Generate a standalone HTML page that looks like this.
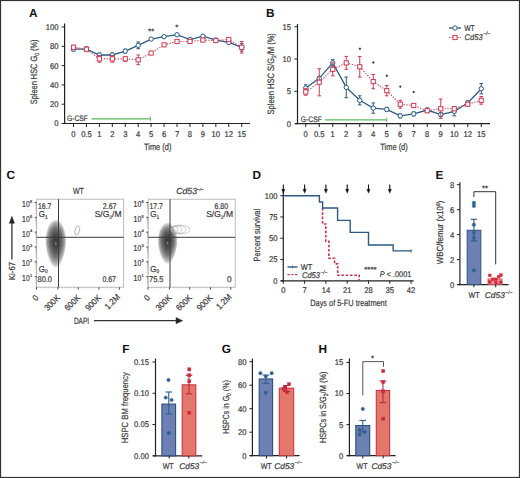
<!DOCTYPE html>
<html><head><meta charset="utf-8">
<style>
html,body{margin:0;padding:0;background:#fff;}
body{width:520px;height:478px;overflow:hidden;position:relative;}
svg{position:absolute;left:0;top:0;}
text{font-family:"Liberation Sans", sans-serif;}
</style></head><body>
<svg width="520" height="478" viewBox="0 0 520 478" text-rendering="geometricPrecision">
<rect x="0" y="0" width="520" height="478" fill="#fff"/>
<text transform="translate(29.00 16.50)" font-size="11.8" text-anchor="start" fill="#111" font-weight="bold">A</text>
<line x1="64.60" y1="23.50" x2="64.60" y2="124.10" stroke="#222" stroke-width="1.2" />
<line x1="62.10" y1="123.50" x2="250.00" y2="123.50" stroke="#222" stroke-width="1.2" />
<line x1="61.60" y1="123.50" x2="64.60" y2="123.50" stroke="#222" stroke-width="1" />
<text transform="translate(58.60 126.40) scale(0.92 1)" font-size="8.3" text-anchor="end" fill="#383838" stroke="#383838" stroke-width="0.2">0</text>
<line x1="61.60" y1="104.20" x2="64.60" y2="104.20" stroke="#222" stroke-width="1" />
<text transform="translate(58.60 107.10) scale(0.92 1)" font-size="8.3" text-anchor="end" fill="#383838" stroke="#383838" stroke-width="0.2">20</text>
<line x1="61.60" y1="84.90" x2="64.60" y2="84.90" stroke="#222" stroke-width="1" />
<text transform="translate(58.60 87.80) scale(0.92 1)" font-size="8.3" text-anchor="end" fill="#383838" stroke="#383838" stroke-width="0.2">40</text>
<line x1="61.60" y1="65.60" x2="64.60" y2="65.60" stroke="#222" stroke-width="1" />
<text transform="translate(58.60 68.50) scale(0.92 1)" font-size="8.3" text-anchor="end" fill="#383838" stroke="#383838" stroke-width="0.2">60</text>
<line x1="61.60" y1="46.30" x2="64.60" y2="46.30" stroke="#222" stroke-width="1" />
<text transform="translate(58.60 49.20) scale(0.92 1)" font-size="8.3" text-anchor="end" fill="#383838" stroke="#383838" stroke-width="0.2">80</text>
<line x1="61.60" y1="27.00" x2="64.60" y2="27.00" stroke="#222" stroke-width="1" />
<text transform="translate(58.60 29.90) scale(0.92 1)" font-size="8.3" text-anchor="end" fill="#383838" stroke="#383838" stroke-width="0.2">100</text>
<line x1="73.50" y1="123.50" x2="73.50" y2="127.00" stroke="#222" stroke-width="1" />
<text transform="translate(73.50 137.00) scale(0.92 1)" font-size="8.3" text-anchor="middle" fill="#383838" stroke="#383838" stroke-width="0.2">0</text>
<line x1="86.44" y1="123.50" x2="86.44" y2="127.00" stroke="#222" stroke-width="1" />
<text transform="translate(86.44 137.00) scale(0.92 1)" font-size="8.3" text-anchor="middle" fill="#383838" stroke="#383838" stroke-width="0.2">0.5</text>
<line x1="99.38" y1="123.50" x2="99.38" y2="127.00" stroke="#222" stroke-width="1" />
<text transform="translate(99.38 137.00) scale(0.92 1)" font-size="8.3" text-anchor="middle" fill="#383838" stroke="#383838" stroke-width="0.2">1</text>
<line x1="112.32" y1="123.50" x2="112.32" y2="127.00" stroke="#222" stroke-width="1" />
<text transform="translate(112.32 137.00) scale(0.92 1)" font-size="8.3" text-anchor="middle" fill="#383838" stroke="#383838" stroke-width="0.2">2</text>
<line x1="125.26" y1="123.50" x2="125.26" y2="127.00" stroke="#222" stroke-width="1" />
<text transform="translate(125.26 137.00) scale(0.92 1)" font-size="8.3" text-anchor="middle" fill="#383838" stroke="#383838" stroke-width="0.2">3</text>
<line x1="138.20" y1="123.50" x2="138.20" y2="127.00" stroke="#222" stroke-width="1" />
<text transform="translate(138.20 137.00) scale(0.92 1)" font-size="8.3" text-anchor="middle" fill="#383838" stroke="#383838" stroke-width="0.2">4</text>
<line x1="151.14" y1="123.50" x2="151.14" y2="127.00" stroke="#222" stroke-width="1" />
<text transform="translate(151.14 137.00) scale(0.92 1)" font-size="8.3" text-anchor="middle" fill="#383838" stroke="#383838" stroke-width="0.2">5</text>
<line x1="164.08" y1="123.50" x2="164.08" y2="127.00" stroke="#222" stroke-width="1" />
<text transform="translate(164.08 137.00) scale(0.92 1)" font-size="8.3" text-anchor="middle" fill="#383838" stroke="#383838" stroke-width="0.2">6</text>
<line x1="177.02" y1="123.50" x2="177.02" y2="127.00" stroke="#222" stroke-width="1" />
<text transform="translate(177.02 137.00) scale(0.92 1)" font-size="8.3" text-anchor="middle" fill="#383838" stroke="#383838" stroke-width="0.2">7</text>
<line x1="189.96" y1="123.50" x2="189.96" y2="127.00" stroke="#222" stroke-width="1" />
<text transform="translate(189.96 137.00) scale(0.92 1)" font-size="8.3" text-anchor="middle" fill="#383838" stroke="#383838" stroke-width="0.2">8</text>
<line x1="202.90" y1="123.50" x2="202.90" y2="127.00" stroke="#222" stroke-width="1" />
<text transform="translate(202.90 137.00) scale(0.92 1)" font-size="8.3" text-anchor="middle" fill="#383838" stroke="#383838" stroke-width="0.2">9</text>
<line x1="215.84" y1="123.50" x2="215.84" y2="127.00" stroke="#222" stroke-width="1" />
<text transform="translate(215.84 137.00) scale(0.92 1)" font-size="8.3" text-anchor="middle" fill="#383838" stroke="#383838" stroke-width="0.2">10</text>
<line x1="228.78" y1="123.50" x2="228.78" y2="127.00" stroke="#222" stroke-width="1" />
<text transform="translate(228.78 137.00) scale(0.92 1)" font-size="8.3" text-anchor="middle" fill="#383838" stroke="#383838" stroke-width="0.2">12</text>
<line x1="241.72" y1="123.50" x2="241.72" y2="127.00" stroke="#222" stroke-width="1" />
<text transform="translate(241.72 137.00) scale(0.92 1)" font-size="8.3" text-anchor="middle" fill="#383838" stroke="#383838" stroke-width="0.2">15</text>
<text transform="translate(157.70 150.10)" font-size="9.2" text-anchor="middle" fill="#383838" stroke="#383838" stroke-width="0.2" textLength="27.5" lengthAdjust="spacingAndGlyphs">Time (d)</text>
<text transform="translate(37.00 71.90) rotate(-90)" font-size="9.3" text-anchor="middle" fill="#383838" stroke="#383838" stroke-width="0.2" textLength="64.8" lengthAdjust="spacingAndGlyphs">Spleen HSC G<tspan font-size="6" dy="1.8">0</tspan><tspan dy="-1.8"> (%)</tspan></text>
<text transform="translate(67.00 121.20)" font-size="8" text-anchor="start" fill="#383838" stroke="#383838" stroke-width="0.2" textLength="21" lengthAdjust="spacingAndGlyphs">G-CSF</text>
<line x1="91.50" y1="118.80" x2="150.40" y2="118.80" stroke="#5fb95a" stroke-width="1.2" />
<line x1="150.40" y1="116.50" x2="150.40" y2="121.00" stroke="#5fb95a" stroke-width="1" />
<polyline points="73.50,49.20 86.44,49.20 99.38,54.98 112.32,54.98 125.26,51.12 138.20,45.34 151.14,39.06 164.08,36.65 177.02,34.72 189.96,39.55 202.90,36.17 215.84,40.03 228.78,42.44 241.72,47.27" fill="none" stroke="#2b5a85" stroke-width="1.3"/>
<line x1="73.50" y1="47.27" x2="73.50" y2="51.12" stroke="#2b5a85" stroke-width="1" />
<line x1="71.70" y1="47.27" x2="75.30" y2="47.27" stroke="#2b5a85" stroke-width="1" />
<line x1="71.70" y1="51.12" x2="75.30" y2="51.12" stroke="#2b5a85" stroke-width="1" />
<line x1="86.44" y1="47.27" x2="86.44" y2="51.12" stroke="#2b5a85" stroke-width="1" />
<line x1="84.64" y1="47.27" x2="88.24" y2="47.27" stroke="#2b5a85" stroke-width="1" />
<line x1="84.64" y1="51.12" x2="88.24" y2="51.12" stroke="#2b5a85" stroke-width="1" />
<line x1="99.38" y1="53.06" x2="99.38" y2="56.92" stroke="#2b5a85" stroke-width="1" />
<line x1="97.58" y1="53.06" x2="101.18" y2="53.06" stroke="#2b5a85" stroke-width="1" />
<line x1="97.58" y1="56.92" x2="101.18" y2="56.92" stroke="#2b5a85" stroke-width="1" />
<line x1="112.32" y1="53.06" x2="112.32" y2="56.92" stroke="#2b5a85" stroke-width="1" />
<line x1="110.52" y1="53.06" x2="114.12" y2="53.06" stroke="#2b5a85" stroke-width="1" />
<line x1="110.52" y1="56.92" x2="114.12" y2="56.92" stroke="#2b5a85" stroke-width="1" />
<line x1="125.26" y1="49.20" x2="125.26" y2="53.06" stroke="#2b5a85" stroke-width="1" />
<line x1="123.46" y1="49.20" x2="127.06" y2="49.20" stroke="#2b5a85" stroke-width="1" />
<line x1="123.46" y1="53.06" x2="127.06" y2="53.06" stroke="#2b5a85" stroke-width="1" />
<line x1="138.20" y1="41.96" x2="138.20" y2="48.71" stroke="#2b5a85" stroke-width="1" />
<line x1="136.40" y1="41.96" x2="140.00" y2="41.96" stroke="#2b5a85" stroke-width="1" />
<line x1="136.40" y1="48.71" x2="140.00" y2="48.71" stroke="#2b5a85" stroke-width="1" />
<line x1="151.14" y1="38.10" x2="151.14" y2="40.03" stroke="#2b5a85" stroke-width="1" />
<line x1="149.34" y1="38.10" x2="152.94" y2="38.10" stroke="#2b5a85" stroke-width="1" />
<line x1="149.34" y1="40.03" x2="152.94" y2="40.03" stroke="#2b5a85" stroke-width="1" />
<line x1="164.08" y1="35.69" x2="164.08" y2="37.62" stroke="#2b5a85" stroke-width="1" />
<line x1="162.28" y1="35.69" x2="165.88" y2="35.69" stroke="#2b5a85" stroke-width="1" />
<line x1="162.28" y1="37.62" x2="165.88" y2="37.62" stroke="#2b5a85" stroke-width="1" />
<line x1="177.02" y1="33.76" x2="177.02" y2="35.69" stroke="#2b5a85" stroke-width="1" />
<line x1="175.22" y1="33.76" x2="178.82" y2="33.76" stroke="#2b5a85" stroke-width="1" />
<line x1="175.22" y1="35.69" x2="178.82" y2="35.69" stroke="#2b5a85" stroke-width="1" />
<line x1="189.96" y1="38.58" x2="189.96" y2="40.51" stroke="#2b5a85" stroke-width="1" />
<line x1="188.16" y1="38.58" x2="191.76" y2="38.58" stroke="#2b5a85" stroke-width="1" />
<line x1="188.16" y1="40.51" x2="191.76" y2="40.51" stroke="#2b5a85" stroke-width="1" />
<line x1="202.90" y1="35.20" x2="202.90" y2="37.13" stroke="#2b5a85" stroke-width="1" />
<line x1="201.10" y1="35.20" x2="204.70" y2="35.20" stroke="#2b5a85" stroke-width="1" />
<line x1="201.10" y1="37.13" x2="204.70" y2="37.13" stroke="#2b5a85" stroke-width="1" />
<line x1="215.84" y1="39.06" x2="215.84" y2="40.99" stroke="#2b5a85" stroke-width="1" />
<line x1="214.04" y1="39.06" x2="217.64" y2="39.06" stroke="#2b5a85" stroke-width="1" />
<line x1="214.04" y1="40.99" x2="217.64" y2="40.99" stroke="#2b5a85" stroke-width="1" />
<line x1="228.78" y1="41.48" x2="228.78" y2="43.41" stroke="#2b5a85" stroke-width="1" />
<line x1="226.98" y1="41.48" x2="230.58" y2="41.48" stroke="#2b5a85" stroke-width="1" />
<line x1="226.98" y1="43.41" x2="230.58" y2="43.41" stroke="#2b5a85" stroke-width="1" />
<line x1="241.72" y1="43.41" x2="241.72" y2="51.12" stroke="#2b5a85" stroke-width="1" />
<line x1="239.92" y1="43.41" x2="243.52" y2="43.41" stroke="#2b5a85" stroke-width="1" />
<line x1="239.92" y1="51.12" x2="243.52" y2="51.12" stroke="#2b5a85" stroke-width="1" />
<circle cx="73.50" cy="49.20" r="2.2" stroke="#2b5a85" fill="#fff" stroke-width="1"/>
<circle cx="86.44" cy="49.20" r="2.2" stroke="#2b5a85" fill="#fff" stroke-width="1"/>
<circle cx="99.38" cy="54.98" r="2.2" stroke="#2b5a85" fill="#fff" stroke-width="1"/>
<circle cx="112.32" cy="54.98" r="2.2" stroke="#2b5a85" fill="#fff" stroke-width="1"/>
<circle cx="125.26" cy="51.12" r="2.2" stroke="#2b5a85" fill="#fff" stroke-width="1"/>
<circle cx="138.20" cy="45.34" r="2.2" stroke="#2b5a85" fill="#fff" stroke-width="1"/>
<circle cx="151.14" cy="39.06" r="2.2" stroke="#2b5a85" fill="#fff" stroke-width="1"/>
<circle cx="164.08" cy="36.65" r="2.2" stroke="#2b5a85" fill="#fff" stroke-width="1"/>
<circle cx="177.02" cy="34.72" r="2.2" stroke="#2b5a85" fill="#fff" stroke-width="1"/>
<circle cx="189.96" cy="39.55" r="2.2" stroke="#2b5a85" fill="#fff" stroke-width="1"/>
<circle cx="202.90" cy="36.17" r="2.2" stroke="#2b5a85" fill="#fff" stroke-width="1"/>
<circle cx="215.84" cy="40.03" r="2.2" stroke="#2b5a85" fill="#fff" stroke-width="1"/>
<circle cx="228.78" cy="42.44" r="2.2" stroke="#2b5a85" fill="#fff" stroke-width="1"/>
<circle cx="241.72" cy="47.27" r="2.2" stroke="#2b5a85" fill="#fff" stroke-width="1"/>
<polyline points="73.50,47.27 86.44,49.20 99.38,58.84 112.32,58.84 125.26,58.84 138.20,59.81 151.14,53.06 164.08,44.85 177.02,41.48 189.96,41.48 202.90,40.03 215.84,40.51 228.78,39.55 241.72,47.27" fill="none" stroke="#cf3b55" stroke-width="1.1" stroke-dasharray="1.3,1.5"/>
<line x1="73.50" y1="45.34" x2="73.50" y2="49.20" stroke="#cf3b55" stroke-width="1" />
<line x1="71.70" y1="45.34" x2="75.30" y2="45.34" stroke="#cf3b55" stroke-width="1" />
<line x1="71.70" y1="49.20" x2="75.30" y2="49.20" stroke="#cf3b55" stroke-width="1" />
<line x1="86.44" y1="46.78" x2="86.44" y2="51.61" stroke="#cf3b55" stroke-width="1" />
<line x1="84.64" y1="46.78" x2="88.24" y2="46.78" stroke="#cf3b55" stroke-width="1" />
<line x1="84.64" y1="51.61" x2="88.24" y2="51.61" stroke="#cf3b55" stroke-width="1" />
<line x1="99.38" y1="55.47" x2="99.38" y2="62.22" stroke="#cf3b55" stroke-width="1" />
<line x1="97.58" y1="55.47" x2="101.18" y2="55.47" stroke="#cf3b55" stroke-width="1" />
<line x1="97.58" y1="62.22" x2="101.18" y2="62.22" stroke="#cf3b55" stroke-width="1" />
<line x1="112.32" y1="55.47" x2="112.32" y2="62.22" stroke="#cf3b55" stroke-width="1" />
<line x1="110.52" y1="55.47" x2="114.12" y2="55.47" stroke="#cf3b55" stroke-width="1" />
<line x1="110.52" y1="62.22" x2="114.12" y2="62.22" stroke="#cf3b55" stroke-width="1" />
<line x1="125.26" y1="56.43" x2="125.26" y2="61.26" stroke="#cf3b55" stroke-width="1" />
<line x1="123.46" y1="56.43" x2="127.06" y2="56.43" stroke="#cf3b55" stroke-width="1" />
<line x1="123.46" y1="61.26" x2="127.06" y2="61.26" stroke="#cf3b55" stroke-width="1" />
<line x1="138.20" y1="54.98" x2="138.20" y2="64.64" stroke="#cf3b55" stroke-width="1" />
<line x1="136.40" y1="54.98" x2="140.00" y2="54.98" stroke="#cf3b55" stroke-width="1" />
<line x1="136.40" y1="64.64" x2="140.00" y2="64.64" stroke="#cf3b55" stroke-width="1" />
<line x1="151.14" y1="52.09" x2="151.14" y2="54.02" stroke="#cf3b55" stroke-width="1" />
<line x1="149.34" y1="52.09" x2="152.94" y2="52.09" stroke="#cf3b55" stroke-width="1" />
<line x1="149.34" y1="54.02" x2="152.94" y2="54.02" stroke="#cf3b55" stroke-width="1" />
<line x1="164.08" y1="43.89" x2="164.08" y2="45.82" stroke="#cf3b55" stroke-width="1" />
<line x1="162.28" y1="43.89" x2="165.88" y2="43.89" stroke="#cf3b55" stroke-width="1" />
<line x1="162.28" y1="45.82" x2="165.88" y2="45.82" stroke="#cf3b55" stroke-width="1" />
<line x1="177.02" y1="40.51" x2="177.02" y2="42.44" stroke="#cf3b55" stroke-width="1" />
<line x1="175.22" y1="40.51" x2="178.82" y2="40.51" stroke="#cf3b55" stroke-width="1" />
<line x1="175.22" y1="42.44" x2="178.82" y2="42.44" stroke="#cf3b55" stroke-width="1" />
<line x1="189.96" y1="40.51" x2="189.96" y2="42.44" stroke="#cf3b55" stroke-width="1" />
<line x1="188.16" y1="40.51" x2="191.76" y2="40.51" stroke="#cf3b55" stroke-width="1" />
<line x1="188.16" y1="42.44" x2="191.76" y2="42.44" stroke="#cf3b55" stroke-width="1" />
<line x1="202.90" y1="39.06" x2="202.90" y2="40.99" stroke="#cf3b55" stroke-width="1" />
<line x1="201.10" y1="39.06" x2="204.70" y2="39.06" stroke="#cf3b55" stroke-width="1" />
<line x1="201.10" y1="40.99" x2="204.70" y2="40.99" stroke="#cf3b55" stroke-width="1" />
<line x1="215.84" y1="39.55" x2="215.84" y2="41.48" stroke="#cf3b55" stroke-width="1" />
<line x1="214.04" y1="39.55" x2="217.64" y2="39.55" stroke="#cf3b55" stroke-width="1" />
<line x1="214.04" y1="41.48" x2="217.64" y2="41.48" stroke="#cf3b55" stroke-width="1" />
<line x1="228.78" y1="38.58" x2="228.78" y2="40.51" stroke="#cf3b55" stroke-width="1" />
<line x1="226.98" y1="38.58" x2="230.58" y2="38.58" stroke="#cf3b55" stroke-width="1" />
<line x1="226.98" y1="40.51" x2="230.58" y2="40.51" stroke="#cf3b55" stroke-width="1" />
<line x1="241.72" y1="41.48" x2="241.72" y2="53.06" stroke="#cf3b55" stroke-width="1" />
<line x1="239.92" y1="41.48" x2="243.52" y2="41.48" stroke="#cf3b55" stroke-width="1" />
<line x1="239.92" y1="53.06" x2="243.52" y2="53.06" stroke="#cf3b55" stroke-width="1" />
<rect x="71.40" y="45.16" width="4.2" height="4.2" stroke="#cf3b55" fill="#fff" stroke-width="1"/>
<rect x="84.34" y="47.10" width="4.2" height="4.2" stroke="#cf3b55" fill="#fff" stroke-width="1"/>
<rect x="97.28" y="56.74" width="4.2" height="4.2" stroke="#cf3b55" fill="#fff" stroke-width="1"/>
<rect x="110.22" y="56.74" width="4.2" height="4.2" stroke="#cf3b55" fill="#fff" stroke-width="1"/>
<rect x="123.16" y="56.74" width="4.2" height="4.2" stroke="#cf3b55" fill="#fff" stroke-width="1"/>
<rect x="136.10" y="57.71" width="4.2" height="4.2" stroke="#cf3b55" fill="#fff" stroke-width="1"/>
<rect x="149.04" y="50.96" width="4.2" height="4.2" stroke="#cf3b55" fill="#fff" stroke-width="1"/>
<rect x="161.98" y="42.75" width="4.2" height="4.2" stroke="#cf3b55" fill="#fff" stroke-width="1"/>
<rect x="174.92" y="39.38" width="4.2" height="4.2" stroke="#cf3b55" fill="#fff" stroke-width="1"/>
<rect x="187.86" y="39.38" width="4.2" height="4.2" stroke="#cf3b55" fill="#fff" stroke-width="1"/>
<rect x="200.80" y="37.93" width="4.2" height="4.2" stroke="#cf3b55" fill="#fff" stroke-width="1"/>
<rect x="213.74" y="38.41" width="4.2" height="4.2" stroke="#cf3b55" fill="#fff" stroke-width="1"/>
<rect x="226.68" y="37.45" width="4.2" height="4.2" stroke="#cf3b55" fill="#fff" stroke-width="1"/>
<rect x="239.62" y="45.16" width="4.2" height="4.2" stroke="#cf3b55" fill="#fff" stroke-width="1"/>
<text transform="translate(151.00 33.60)" font-size="8" text-anchor="middle" fill="#333" stroke="#333" stroke-width="0.2">**</text>
<text transform="translate(176.70 30.10)" font-size="8" text-anchor="middle" fill="#333" stroke="#333" stroke-width="0.2">*</text>
<text transform="translate(266.00 16.50)" font-size="11.8" text-anchor="start" fill="#111" font-weight="bold">B</text>
<line x1="297.50" y1="24.00" x2="297.50" y2="124.20" stroke="#222" stroke-width="1.2" />
<line x1="295.00" y1="123.60" x2="490.00" y2="123.60" stroke="#222" stroke-width="1.2" />
<line x1="294.50" y1="123.60" x2="297.50" y2="123.60" stroke="#222" stroke-width="1" />
<text transform="translate(291.00 126.50) scale(0.92 1)" font-size="8.3" text-anchor="end" fill="#383838" stroke="#383838" stroke-width="0.2">0</text>
<line x1="294.50" y1="91.30" x2="297.50" y2="91.30" stroke="#222" stroke-width="1" />
<text transform="translate(291.00 94.20) scale(0.92 1)" font-size="8.3" text-anchor="end" fill="#383838" stroke="#383838" stroke-width="0.2">5</text>
<line x1="294.50" y1="59.00" x2="297.50" y2="59.00" stroke="#222" stroke-width="1" />
<text transform="translate(291.00 61.90) scale(0.92 1)" font-size="8.3" text-anchor="end" fill="#383838" stroke="#383838" stroke-width="0.2">10</text>
<line x1="294.50" y1="26.70" x2="297.50" y2="26.70" stroke="#222" stroke-width="1" />
<text transform="translate(291.00 29.60) scale(0.92 1)" font-size="8.3" text-anchor="end" fill="#383838" stroke="#383838" stroke-width="0.2">15</text>
<line x1="305.75" y1="123.60" x2="305.75" y2="127.10" stroke="#222" stroke-width="1" />
<text transform="translate(305.75 137.00) scale(0.92 1)" font-size="8.3" text-anchor="middle" fill="#383838" stroke="#383838" stroke-width="0.2">0</text>
<line x1="319.25" y1="123.60" x2="319.25" y2="127.10" stroke="#222" stroke-width="1" />
<text transform="translate(319.25 137.00) scale(0.92 1)" font-size="8.3" text-anchor="middle" fill="#383838" stroke="#383838" stroke-width="0.2">0.5</text>
<line x1="332.75" y1="123.60" x2="332.75" y2="127.10" stroke="#222" stroke-width="1" />
<text transform="translate(332.75 137.00) scale(0.92 1)" font-size="8.3" text-anchor="middle" fill="#383838" stroke="#383838" stroke-width="0.2">1</text>
<line x1="346.25" y1="123.60" x2="346.25" y2="127.10" stroke="#222" stroke-width="1" />
<text transform="translate(346.25 137.00) scale(0.92 1)" font-size="8.3" text-anchor="middle" fill="#383838" stroke="#383838" stroke-width="0.2">2</text>
<line x1="359.75" y1="123.60" x2="359.75" y2="127.10" stroke="#222" stroke-width="1" />
<text transform="translate(359.75 137.00) scale(0.92 1)" font-size="8.3" text-anchor="middle" fill="#383838" stroke="#383838" stroke-width="0.2">3</text>
<line x1="373.25" y1="123.60" x2="373.25" y2="127.10" stroke="#222" stroke-width="1" />
<text transform="translate(373.25 137.00) scale(0.92 1)" font-size="8.3" text-anchor="middle" fill="#383838" stroke="#383838" stroke-width="0.2">4</text>
<line x1="386.75" y1="123.60" x2="386.75" y2="127.10" stroke="#222" stroke-width="1" />
<text transform="translate(386.75 137.00) scale(0.92 1)" font-size="8.3" text-anchor="middle" fill="#383838" stroke="#383838" stroke-width="0.2">5</text>
<line x1="400.25" y1="123.60" x2="400.25" y2="127.10" stroke="#222" stroke-width="1" />
<text transform="translate(400.25 137.00) scale(0.92 1)" font-size="8.3" text-anchor="middle" fill="#383838" stroke="#383838" stroke-width="0.2">6</text>
<line x1="413.75" y1="123.60" x2="413.75" y2="127.10" stroke="#222" stroke-width="1" />
<text transform="translate(413.75 137.00) scale(0.92 1)" font-size="8.3" text-anchor="middle" fill="#383838" stroke="#383838" stroke-width="0.2">7</text>
<line x1="427.25" y1="123.60" x2="427.25" y2="127.10" stroke="#222" stroke-width="1" />
<text transform="translate(427.25 137.00) scale(0.92 1)" font-size="8.3" text-anchor="middle" fill="#383838" stroke="#383838" stroke-width="0.2">8</text>
<line x1="440.75" y1="123.60" x2="440.75" y2="127.10" stroke="#222" stroke-width="1" />
<text transform="translate(440.75 137.00) scale(0.92 1)" font-size="8.3" text-anchor="middle" fill="#383838" stroke="#383838" stroke-width="0.2">9</text>
<line x1="454.25" y1="123.60" x2="454.25" y2="127.10" stroke="#222" stroke-width="1" />
<text transform="translate(454.25 137.00) scale(0.92 1)" font-size="8.3" text-anchor="middle" fill="#383838" stroke="#383838" stroke-width="0.2">10</text>
<line x1="467.75" y1="123.60" x2="467.75" y2="127.10" stroke="#222" stroke-width="1" />
<text transform="translate(467.75 137.00) scale(0.92 1)" font-size="8.3" text-anchor="middle" fill="#383838" stroke="#383838" stroke-width="0.2">12</text>
<line x1="481.25" y1="123.60" x2="481.25" y2="127.10" stroke="#222" stroke-width="1" />
<text transform="translate(481.25 137.00) scale(0.92 1)" font-size="8.3" text-anchor="middle" fill="#383838" stroke="#383838" stroke-width="0.2">15</text>
<text transform="translate(394.00 150.10)" font-size="9.2" text-anchor="middle" fill="#383838" stroke="#383838" stroke-width="0.2" textLength="27.5" lengthAdjust="spacingAndGlyphs">Time (d)</text>
<text transform="translate(274.40 73.80) rotate(-90)" font-size="9.3" text-anchor="middle" fill="#383838" stroke="#383838" stroke-width="0.2" textLength="81.3" lengthAdjust="spacingAndGlyphs">Spleen HSC S/G<tspan font-size="6" dy="1.8">2</tspan><tspan dy="-1.8">/M (%)</tspan></text>
<text transform="translate(300.80 122.00)" font-size="8" text-anchor="start" fill="#383838" stroke="#383838" stroke-width="0.2" textLength="21" lengthAdjust="spacingAndGlyphs">G-CSF</text>
<line x1="325.00" y1="119.80" x2="386.75" y2="119.80" stroke="#5fb95a" stroke-width="1.2" />
<line x1="386.75" y1="117.50" x2="386.75" y2="122.00" stroke="#5fb95a" stroke-width="1" />
<polyline points="305.75,88.07 319.25,78.38 332.75,62.88 346.25,87.42 359.75,100.34 373.25,108.10 386.75,109.39 400.25,115.85 413.75,113.91 427.25,110.03 440.75,114.56 454.25,111.33 467.75,102.93 481.25,88.72" fill="none" stroke="#2b5a85" stroke-width="1.3"/>
<line x1="305.75" y1="84.84" x2="305.75" y2="91.30" stroke="#2b5a85" stroke-width="1" />
<line x1="303.95" y1="84.84" x2="307.55" y2="84.84" stroke="#2b5a85" stroke-width="1" />
<line x1="303.95" y1="91.30" x2="307.55" y2="91.30" stroke="#2b5a85" stroke-width="1" />
<line x1="319.25" y1="76.44" x2="319.25" y2="80.32" stroke="#2b5a85" stroke-width="1" />
<line x1="317.45" y1="76.44" x2="321.05" y2="76.44" stroke="#2b5a85" stroke-width="1" />
<line x1="317.45" y1="80.32" x2="321.05" y2="80.32" stroke="#2b5a85" stroke-width="1" />
<line x1="332.75" y1="59.65" x2="332.75" y2="66.11" stroke="#2b5a85" stroke-width="1" />
<line x1="330.95" y1="59.65" x2="334.55" y2="59.65" stroke="#2b5a85" stroke-width="1" />
<line x1="330.95" y1="66.11" x2="334.55" y2="66.11" stroke="#2b5a85" stroke-width="1" />
<line x1="346.25" y1="77.09" x2="346.25" y2="97.76" stroke="#2b5a85" stroke-width="1" />
<line x1="344.45" y1="77.09" x2="348.05" y2="77.09" stroke="#2b5a85" stroke-width="1" />
<line x1="344.45" y1="97.76" x2="348.05" y2="97.76" stroke="#2b5a85" stroke-width="1" />
<line x1="359.75" y1="95.82" x2="359.75" y2="104.87" stroke="#2b5a85" stroke-width="1" />
<line x1="357.95" y1="95.82" x2="361.55" y2="95.82" stroke="#2b5a85" stroke-width="1" />
<line x1="357.95" y1="104.87" x2="361.55" y2="104.87" stroke="#2b5a85" stroke-width="1" />
<line x1="373.25" y1="102.93" x2="373.25" y2="113.26" stroke="#2b5a85" stroke-width="1" />
<line x1="371.45" y1="102.93" x2="375.05" y2="102.93" stroke="#2b5a85" stroke-width="1" />
<line x1="371.45" y1="113.26" x2="375.05" y2="113.26" stroke="#2b5a85" stroke-width="1" />
<line x1="386.75" y1="107.45" x2="386.75" y2="111.33" stroke="#2b5a85" stroke-width="1" />
<line x1="384.95" y1="107.45" x2="388.55" y2="107.45" stroke="#2b5a85" stroke-width="1" />
<line x1="384.95" y1="111.33" x2="388.55" y2="111.33" stroke="#2b5a85" stroke-width="1" />
<line x1="400.25" y1="113.91" x2="400.25" y2="117.79" stroke="#2b5a85" stroke-width="1" />
<line x1="398.45" y1="113.91" x2="402.05" y2="113.91" stroke="#2b5a85" stroke-width="1" />
<line x1="398.45" y1="117.79" x2="402.05" y2="117.79" stroke="#2b5a85" stroke-width="1" />
<line x1="413.75" y1="111.97" x2="413.75" y2="115.85" stroke="#2b5a85" stroke-width="1" />
<line x1="411.95" y1="111.97" x2="415.55" y2="111.97" stroke="#2b5a85" stroke-width="1" />
<line x1="411.95" y1="115.85" x2="415.55" y2="115.85" stroke="#2b5a85" stroke-width="1" />
<line x1="427.25" y1="108.10" x2="427.25" y2="111.97" stroke="#2b5a85" stroke-width="1" />
<line x1="425.45" y1="108.10" x2="429.05" y2="108.10" stroke="#2b5a85" stroke-width="1" />
<line x1="425.45" y1="111.97" x2="429.05" y2="111.97" stroke="#2b5a85" stroke-width="1" />
<line x1="440.75" y1="112.62" x2="440.75" y2="116.49" stroke="#2b5a85" stroke-width="1" />
<line x1="438.95" y1="112.62" x2="442.55" y2="112.62" stroke="#2b5a85" stroke-width="1" />
<line x1="438.95" y1="116.49" x2="442.55" y2="116.49" stroke="#2b5a85" stroke-width="1" />
<line x1="454.25" y1="106.80" x2="454.25" y2="115.85" stroke="#2b5a85" stroke-width="1" />
<line x1="452.45" y1="106.80" x2="456.05" y2="106.80" stroke="#2b5a85" stroke-width="1" />
<line x1="452.45" y1="115.85" x2="456.05" y2="115.85" stroke="#2b5a85" stroke-width="1" />
<line x1="467.75" y1="100.99" x2="467.75" y2="104.87" stroke="#2b5a85" stroke-width="1" />
<line x1="465.95" y1="100.99" x2="469.55" y2="100.99" stroke="#2b5a85" stroke-width="1" />
<line x1="465.95" y1="104.87" x2="469.55" y2="104.87" stroke="#2b5a85" stroke-width="1" />
<line x1="481.25" y1="83.55" x2="481.25" y2="93.88" stroke="#2b5a85" stroke-width="1" />
<line x1="479.45" y1="83.55" x2="483.05" y2="83.55" stroke="#2b5a85" stroke-width="1" />
<line x1="479.45" y1="93.88" x2="483.05" y2="93.88" stroke="#2b5a85" stroke-width="1" />
<circle cx="305.75" cy="88.07" r="2.2" stroke="#2b5a85" fill="#fff" stroke-width="1"/>
<circle cx="319.25" cy="78.38" r="2.2" stroke="#2b5a85" fill="#fff" stroke-width="1"/>
<circle cx="332.75" cy="62.88" r="2.2" stroke="#2b5a85" fill="#fff" stroke-width="1"/>
<circle cx="346.25" cy="87.42" r="2.2" stroke="#2b5a85" fill="#fff" stroke-width="1"/>
<circle cx="359.75" cy="100.34" r="2.2" stroke="#2b5a85" fill="#fff" stroke-width="1"/>
<circle cx="373.25" cy="108.10" r="2.2" stroke="#2b5a85" fill="#fff" stroke-width="1"/>
<circle cx="386.75" cy="109.39" r="2.2" stroke="#2b5a85" fill="#fff" stroke-width="1"/>
<circle cx="400.25" cy="115.85" r="2.2" stroke="#2b5a85" fill="#fff" stroke-width="1"/>
<circle cx="413.75" cy="113.91" r="2.2" stroke="#2b5a85" fill="#fff" stroke-width="1"/>
<circle cx="427.25" cy="110.03" r="2.2" stroke="#2b5a85" fill="#fff" stroke-width="1"/>
<circle cx="440.75" cy="114.56" r="2.2" stroke="#2b5a85" fill="#fff" stroke-width="1"/>
<circle cx="454.25" cy="111.33" r="2.2" stroke="#2b5a85" fill="#fff" stroke-width="1"/>
<circle cx="467.75" cy="102.93" r="2.2" stroke="#2b5a85" fill="#fff" stroke-width="1"/>
<circle cx="481.25" cy="88.72" r="2.2" stroke="#2b5a85" fill="#fff" stroke-width="1"/>
<polyline points="305.75,91.95 319.25,82.26 332.75,69.34 346.25,62.88 359.75,66.75 373.25,81.61 386.75,90.65 400.25,104.22 413.75,105.51 427.25,110.68 440.75,108.74 454.25,108.74 467.75,104.22 481.25,100.34" fill="none" stroke="#cf3b55" stroke-width="1.1" stroke-dasharray="1.3,1.5"/>
<line x1="305.75" y1="88.72" x2="305.75" y2="95.18" stroke="#cf3b55" stroke-width="1" />
<line x1="303.95" y1="88.72" x2="307.55" y2="88.72" stroke="#cf3b55" stroke-width="1" />
<line x1="303.95" y1="95.18" x2="307.55" y2="95.18" stroke="#cf3b55" stroke-width="1" />
<line x1="319.25" y1="68.69" x2="319.25" y2="95.82" stroke="#cf3b55" stroke-width="1" />
<line x1="317.45" y1="68.69" x2="321.05" y2="68.69" stroke="#cf3b55" stroke-width="1" />
<line x1="317.45" y1="95.82" x2="321.05" y2="95.82" stroke="#cf3b55" stroke-width="1" />
<line x1="332.75" y1="62.88" x2="332.75" y2="75.80" stroke="#cf3b55" stroke-width="1" />
<line x1="330.95" y1="62.88" x2="334.55" y2="62.88" stroke="#cf3b55" stroke-width="1" />
<line x1="330.95" y1="75.80" x2="334.55" y2="75.80" stroke="#cf3b55" stroke-width="1" />
<line x1="346.25" y1="56.42" x2="346.25" y2="69.34" stroke="#cf3b55" stroke-width="1" />
<line x1="344.45" y1="56.42" x2="348.05" y2="56.42" stroke="#cf3b55" stroke-width="1" />
<line x1="344.45" y1="69.34" x2="348.05" y2="69.34" stroke="#cf3b55" stroke-width="1" />
<line x1="359.75" y1="56.42" x2="359.75" y2="77.09" stroke="#cf3b55" stroke-width="1" />
<line x1="357.95" y1="56.42" x2="361.55" y2="56.42" stroke="#cf3b55" stroke-width="1" />
<line x1="357.95" y1="77.09" x2="361.55" y2="77.09" stroke="#cf3b55" stroke-width="1" />
<line x1="373.25" y1="74.50" x2="373.25" y2="88.72" stroke="#cf3b55" stroke-width="1" />
<line x1="371.45" y1="74.50" x2="375.05" y2="74.50" stroke="#cf3b55" stroke-width="1" />
<line x1="371.45" y1="88.72" x2="375.05" y2="88.72" stroke="#cf3b55" stroke-width="1" />
<line x1="386.75" y1="85.49" x2="386.75" y2="95.82" stroke="#cf3b55" stroke-width="1" />
<line x1="384.95" y1="85.49" x2="388.55" y2="85.49" stroke="#cf3b55" stroke-width="1" />
<line x1="384.95" y1="95.82" x2="388.55" y2="95.82" stroke="#cf3b55" stroke-width="1" />
<line x1="400.25" y1="100.34" x2="400.25" y2="108.10" stroke="#cf3b55" stroke-width="1" />
<line x1="398.45" y1="100.34" x2="402.05" y2="100.34" stroke="#cf3b55" stroke-width="1" />
<line x1="398.45" y1="108.10" x2="402.05" y2="108.10" stroke="#cf3b55" stroke-width="1" />
<line x1="413.75" y1="103.57" x2="413.75" y2="107.45" stroke="#cf3b55" stroke-width="1" />
<line x1="411.95" y1="103.57" x2="415.55" y2="103.57" stroke="#cf3b55" stroke-width="1" />
<line x1="411.95" y1="107.45" x2="415.55" y2="107.45" stroke="#cf3b55" stroke-width="1" />
<line x1="427.25" y1="108.74" x2="427.25" y2="112.62" stroke="#cf3b55" stroke-width="1" />
<line x1="425.45" y1="108.74" x2="429.05" y2="108.74" stroke="#cf3b55" stroke-width="1" />
<line x1="425.45" y1="112.62" x2="429.05" y2="112.62" stroke="#cf3b55" stroke-width="1" />
<line x1="440.75" y1="99.05" x2="440.75" y2="118.43" stroke="#cf3b55" stroke-width="1" />
<line x1="438.95" y1="99.05" x2="442.55" y2="99.05" stroke="#cf3b55" stroke-width="1" />
<line x1="438.95" y1="118.43" x2="442.55" y2="118.43" stroke="#cf3b55" stroke-width="1" />
<line x1="454.25" y1="106.80" x2="454.25" y2="110.68" stroke="#cf3b55" stroke-width="1" />
<line x1="452.45" y1="106.80" x2="456.05" y2="106.80" stroke="#cf3b55" stroke-width="1" />
<line x1="452.45" y1="110.68" x2="456.05" y2="110.68" stroke="#cf3b55" stroke-width="1" />
<line x1="467.75" y1="102.28" x2="467.75" y2="106.16" stroke="#cf3b55" stroke-width="1" />
<line x1="465.95" y1="102.28" x2="469.55" y2="102.28" stroke="#cf3b55" stroke-width="1" />
<line x1="465.95" y1="106.16" x2="469.55" y2="106.16" stroke="#cf3b55" stroke-width="1" />
<line x1="481.25" y1="96.47" x2="481.25" y2="104.22" stroke="#cf3b55" stroke-width="1" />
<line x1="479.45" y1="96.47" x2="483.05" y2="96.47" stroke="#cf3b55" stroke-width="1" />
<line x1="479.45" y1="104.22" x2="483.05" y2="104.22" stroke="#cf3b55" stroke-width="1" />
<rect x="303.65" y="89.85" width="4.2" height="4.2" stroke="#cf3b55" fill="#fff" stroke-width="1"/>
<rect x="317.15" y="80.16" width="4.2" height="4.2" stroke="#cf3b55" fill="#fff" stroke-width="1"/>
<rect x="330.65" y="67.24" width="4.2" height="4.2" stroke="#cf3b55" fill="#fff" stroke-width="1"/>
<rect x="344.15" y="60.78" width="4.2" height="4.2" stroke="#cf3b55" fill="#fff" stroke-width="1"/>
<rect x="357.65" y="64.65" width="4.2" height="4.2" stroke="#cf3b55" fill="#fff" stroke-width="1"/>
<rect x="371.15" y="79.51" width="4.2" height="4.2" stroke="#cf3b55" fill="#fff" stroke-width="1"/>
<rect x="384.65" y="88.55" width="4.2" height="4.2" stroke="#cf3b55" fill="#fff" stroke-width="1"/>
<rect x="398.15" y="102.12" width="4.2" height="4.2" stroke="#cf3b55" fill="#fff" stroke-width="1"/>
<rect x="411.65" y="103.41" width="4.2" height="4.2" stroke="#cf3b55" fill="#fff" stroke-width="1"/>
<rect x="425.15" y="108.58" width="4.2" height="4.2" stroke="#cf3b55" fill="#fff" stroke-width="1"/>
<rect x="438.65" y="106.64" width="4.2" height="4.2" stroke="#cf3b55" fill="#fff" stroke-width="1"/>
<rect x="452.15" y="106.64" width="4.2" height="4.2" stroke="#cf3b55" fill="#fff" stroke-width="1"/>
<rect x="465.65" y="102.12" width="4.2" height="4.2" stroke="#cf3b55" fill="#fff" stroke-width="1"/>
<rect x="479.15" y="98.24" width="4.2" height="4.2" stroke="#cf3b55" fill="#fff" stroke-width="1"/>
<circle cx="359.90" cy="48.80" r="0.95" stroke="#333" fill="#333" stroke-width="0.3"/>
<circle cx="373.40" cy="62.50" r="0.95" stroke="#333" fill="#333" stroke-width="0.3"/>
<circle cx="386.80" cy="75.70" r="0.95" stroke="#333" fill="#333" stroke-width="0.3"/>
<circle cx="400.30" cy="86.60" r="0.95" stroke="#333" fill="#333" stroke-width="0.3"/>
<circle cx="413.70" cy="92.00" r="0.95" stroke="#333" fill="#333" stroke-width="0.3"/>
<line x1="449.00" y1="28.00" x2="461.00" y2="28.00" stroke="#2b5a85" stroke-width="1.3" />
<circle cx="455.00" cy="28.00" r="2.2" stroke="#2b5a85" fill="#fff" stroke-width="1"/>
<text transform="translate(464.20 30.90)" font-size="8.3" text-anchor="start" fill="#383838" stroke="#383838" stroke-width="0.2" textLength="10.5" lengthAdjust="spacingAndGlyphs">WT</text>
<line x1="449.00" y1="37.50" x2="461.00" y2="37.50" stroke="#cf3b55" stroke-width="1.1" stroke-dasharray="1.3,1.5"/>
<rect x="452.90" y="35.40" width="4.2" height="4.2" stroke="#cf3b55" fill="#fff" stroke-width="1"/>
<text transform="translate(464.60 40.30)" font-size="8.3" text-anchor="start" fill="#383838" stroke="#383838" stroke-width="0.2" font-style="italic" textLength="18" lengthAdjust="spacingAndGlyphs">Cd53</text>
<text transform="translate(483.00 35.30)" font-size="5" text-anchor="start" fill="#383838" stroke="#383838" stroke-width="0.2" font-style="italic" textLength="7.5" lengthAdjust="spacingAndGlyphs">−/−</text>
<text transform="translate(6.50 178.80)" font-size="11.8" text-anchor="start" fill="#111" font-weight="bold">C</text>
<text transform="translate(78.40 194.20)" font-size="8.8" text-anchor="middle" fill="#383838" stroke="#383838" stroke-width="0.2" textLength="11" lengthAdjust="spacingAndGlyphs">WT</text>
<path d="M65.60,243.70 L65.08,247.73 L64.32,251.63 L63.35,255.30 L62.25,258.61 L61.04,261.47 L59.77,263.79 L58.46,265.50 L57.13,266.55 L55.80,266.90 L54.47,266.55 L53.14,265.50 L51.83,263.79 L50.56,261.47 L49.35,258.61 L48.25,255.30 L47.28,251.63 L46.52,247.73 L46.00,243.70 L46.05,239.67 L46.40,235.77 L47.06,232.10 L48.00,228.79 L49.21,225.93 L50.65,223.61 L52.26,221.90 L54.00,220.85 L55.80,220.50 L57.60,220.85 L59.34,221.90 L60.95,223.61 L62.39,225.93 L63.60,228.79 L64.54,232.10 L65.20,235.77 L65.55,239.67Z" fill="#222" fill-opacity="0.15" stroke="#444" stroke-opacity="0.4" stroke-width="0.45"/>
<path d="M64.87,243.48 L64.39,247.20 L63.68,250.82 L62.79,254.21 L61.77,257.28 L60.65,259.92 L59.47,262.07 L58.26,263.65 L57.03,264.62 L55.80,264.95 L54.57,264.62 L53.34,263.65 L52.13,262.07 L50.95,259.92 L49.83,257.28 L48.81,254.21 L47.92,250.82 L47.21,247.20 L46.73,243.48 L46.78,239.75 L47.10,236.13 L47.71,232.74 L48.58,229.68 L49.70,227.03 L51.03,224.88 L52.52,223.30 L54.13,222.33 L55.80,222.01 L57.47,222.33 L59.08,223.30 L60.57,224.88 L61.90,227.03 L63.02,229.68 L63.89,232.74 L64.50,236.13 L64.82,239.75Z" fill="#222" fill-opacity="0.15" stroke="#444" stroke-opacity="0.4" stroke-width="0.45"/>
<path d="M64.14,243.25 L63.70,246.68 L63.05,250.00 L62.23,253.12 L61.28,255.94 L60.26,258.38 L59.18,260.35 L58.06,261.80 L56.93,262.69 L55.80,262.99 L54.67,262.69 L53.54,261.80 L52.42,260.35 L51.34,258.38 L50.32,255.94 L49.37,253.12 L48.55,250.00 L47.90,246.68 L47.46,243.25 L47.50,239.82 L47.80,236.50 L48.36,233.38 L49.17,230.56 L50.19,228.13 L51.41,226.16 L52.79,224.70 L54.27,223.81 L55.80,223.51 L57.33,223.81 L58.81,224.70 L60.19,226.16 L61.41,228.13 L62.43,230.56 L63.24,233.38 L63.80,236.50 L64.10,239.82Z" fill="#222" fill-opacity="0.15" stroke="#444" stroke-opacity="0.4" stroke-width="0.45"/>
<path d="M63.41,243.03 L63.01,246.16 L62.41,249.19 L61.66,252.03 L60.80,254.61 L59.87,256.83 L58.88,258.63 L57.86,259.95 L56.83,260.77 L55.80,261.04 L54.77,260.77 L53.74,259.95 L52.72,258.63 L51.73,256.83 L50.80,254.61 L49.94,252.03 L49.19,249.19 L48.59,246.16 L48.19,243.03 L48.23,239.90 L48.50,236.87 L49.01,234.02 L49.75,231.45 L50.68,229.23 L51.80,227.43 L53.05,226.10 L54.40,225.29 L55.80,225.02 L57.20,225.29 L58.55,226.10 L59.80,227.43 L60.92,229.23 L61.85,231.45 L62.59,234.02 L63.10,236.87 L63.37,239.90Z" fill="#222" fill-opacity="0.15" stroke="#444" stroke-opacity="0.4" stroke-width="0.45"/>
<path d="M62.68,242.81 L62.31,245.63 L61.78,248.37 L61.10,250.95 L60.32,253.27 L59.48,255.28 L58.58,256.91 L57.67,258.11 L56.74,258.84 L55.80,259.09 L54.86,258.84 L53.93,258.11 L53.02,256.91 L52.12,255.28 L51.28,253.27 L50.50,250.95 L49.82,248.37 L49.29,245.63 L48.92,242.81 L48.96,239.98 L49.20,237.24 L49.66,234.66 L50.33,232.34 L51.18,230.33 L52.18,228.70 L53.32,227.51 L54.54,226.77 L55.80,226.52 L57.06,226.77 L58.28,227.51 L59.42,228.70 L60.42,230.33 L61.27,232.34 L61.94,234.66 L62.40,237.24 L62.64,239.98Z" fill="#222" fill-opacity="0.15" stroke="#444" stroke-opacity="0.4" stroke-width="0.45"/>
<path d="M61.95,242.58 L61.62,245.11 L61.14,247.56 L60.54,249.86 L59.84,251.94 L59.09,253.73 L58.29,255.18 L57.47,256.26 L56.64,256.91 L55.80,257.13 L54.96,256.91 L54.13,256.26 L53.31,255.18 L52.51,253.73 L51.76,251.94 L51.06,249.86 L50.46,247.56 L49.98,245.11 L49.65,242.58 L49.68,240.05 L49.90,237.60 L50.32,235.31 L50.91,233.23 L51.67,231.43 L52.57,229.98 L53.58,228.91 L54.67,228.25 L55.80,228.03 L56.93,228.25 L58.02,228.91 L59.03,229.98 L59.93,231.43 L60.69,233.23 L61.28,235.31 L61.70,237.60 L61.92,240.05Z" fill="#222" fill-opacity="0.15" stroke="#444" stroke-opacity="0.4" stroke-width="0.45"/>
<path d="M61.22,242.36 L60.93,244.58 L60.51,246.74 L59.98,248.77 L59.36,250.60 L58.70,252.18 L57.99,253.46 L57.27,254.41 L56.54,254.99 L55.80,255.18 L55.06,254.99 L54.33,254.41 L53.61,253.46 L52.90,252.18 L52.24,250.60 L51.62,248.77 L51.09,246.74 L50.67,244.58 L50.38,242.36 L50.41,240.13 L50.61,237.97 L50.97,235.95 L51.49,234.12 L52.16,232.53 L52.95,231.25 L53.84,230.31 L54.80,229.73 L55.80,229.53 L56.80,229.73 L57.76,230.31 L58.65,231.25 L59.44,232.53 L60.11,234.12 L60.63,235.95 L60.99,237.97 L61.19,240.13Z" fill="#222" fill-opacity="0.15" stroke="#444" stroke-opacity="0.4" stroke-width="0.45"/>
<path d="M60.49,242.13 L60.24,244.06 L59.87,245.93 L59.41,247.68 L58.88,249.27 L58.30,250.63 L57.70,251.74 L57.07,252.56 L56.44,253.06 L55.80,253.23 L55.16,253.06 L54.53,252.56 L53.90,251.74 L53.30,250.63 L52.72,249.27 L52.19,247.68 L51.73,245.93 L51.36,244.06 L51.11,242.13 L51.14,240.21 L51.31,238.34 L51.62,236.59 L52.07,235.00 L52.65,233.64 L53.34,232.53 L54.11,231.71 L54.94,231.21 L55.80,231.04 L56.66,231.21 L57.49,231.71 L58.26,232.53 L58.95,233.64 L59.53,235.00 L59.98,236.59 L60.29,238.34 L60.46,240.21Z" fill="#222" fill-opacity="0.15" stroke="#444" stroke-opacity="0.4" stroke-width="0.45"/>
<path d="M59.76,241.91 L59.55,243.54 L59.24,245.11 L58.85,246.59 L58.40,247.93 L57.91,249.08 L57.40,250.02 L56.87,250.71 L56.34,251.13 L55.80,251.28 L55.26,251.13 L54.73,250.71 L54.20,250.02 L53.69,249.08 L53.20,247.93 L52.75,246.59 L52.36,245.11 L52.05,243.54 L51.84,241.91 L51.86,240.28 L52.01,238.71 L52.27,237.23 L52.65,235.89 L53.14,234.74 L53.72,233.80 L54.37,233.11 L55.07,232.69 L55.80,232.55 L56.53,232.69 L57.23,233.11 L57.88,233.80 L58.46,234.74 L58.95,235.89 L59.33,237.23 L59.59,238.71 L59.74,240.28Z" fill="#222" fill-opacity="0.15" stroke="#444" stroke-opacity="0.4" stroke-width="0.45"/>
<path d="M59.03,241.69 L58.85,243.01 L58.60,244.30 L58.29,245.50 L57.92,246.59 L57.52,247.54 L57.11,248.30 L56.68,248.86 L56.24,249.21 L55.80,249.32 L55.36,249.21 L54.92,248.86 L54.49,248.30 L54.08,247.54 L53.68,246.59 L53.31,245.50 L53.00,244.30 L52.75,243.01 L52.57,241.69 L52.59,240.36 L52.71,239.08 L52.92,237.87 L53.23,236.78 L53.63,235.84 L54.10,235.08 L54.63,234.51 L55.21,234.17 L55.80,234.05 L56.39,234.17 L56.97,234.51 L57.50,235.08 L57.97,235.84 L58.37,236.78 L58.68,237.87 L58.89,239.08 L59.01,240.36Z" fill="#222" fill-opacity="0.15" stroke="#444" stroke-opacity="0.4" stroke-width="0.45"/>
<path d="M58.29,241.46 L58.16,242.49 L57.97,243.48 L57.72,244.42 L57.44,245.26 L57.13,245.99 L56.81,246.58 L56.48,247.01 L56.14,247.28 L55.80,247.37 L55.46,247.28 L55.12,247.01 L54.79,246.58 L54.47,245.99 L54.16,245.26 L53.88,244.42 L53.63,243.48 L53.44,242.49 L53.31,241.46 L53.32,240.44 L53.41,239.44 L53.57,238.51 L53.82,237.67 L54.12,236.94 L54.49,236.35 L54.90,235.91 L55.34,235.65 L55.80,235.56 L56.26,235.65 L56.70,235.91 L57.11,236.35 L57.48,236.94 L57.78,237.67 L58.03,238.51 L58.19,239.44 L58.28,240.44Z" fill="#222" fill-opacity="0.15" stroke="#444" stroke-opacity="0.4" stroke-width="0.45"/>
<path d="M57.56,241.24 L57.47,241.97 L57.33,242.67 L57.16,243.33 L56.96,243.92 L56.74,244.44 L56.51,244.86 L56.28,245.16 L56.04,245.35 L55.80,245.42 L55.56,245.35 L55.32,245.16 L55.09,244.86 L54.86,244.44 L54.64,243.92 L54.44,243.33 L54.27,242.67 L54.13,241.97 L54.04,241.24 L54.04,240.51 L54.11,239.81 L54.23,239.15 L54.40,238.56 L54.61,238.04 L54.87,237.62 L55.16,237.32 L55.48,237.13 L55.80,237.06 L56.12,237.13 L56.44,237.32 L56.73,237.62 L56.99,238.04 L57.20,238.56 L57.37,239.15 L57.49,239.81 L57.56,240.51Z" fill="#222" fill-opacity="0.15" stroke="#444" stroke-opacity="0.4" stroke-width="0.45"/>
<ellipse cx="55.80" cy="243.50" rx="0.8" ry="1.5" fill="#fff" fill-opacity="0.35"/>
<rect x="36.70" y="199.20" width="87" height="88" fill="none" stroke="#aaa" stroke-width="0.8"/>
<line x1="58.50" y1="199.20" x2="58.50" y2="287.20" stroke="#3a3a3a" stroke-width="1" />
<line x1="36.70" y1="237.30" x2="123.70" y2="237.30" stroke="#3a3a3a" stroke-width="1" />
<ellipse cx="77.3" cy="230.5" rx="2.2" ry="4.6" fill="none" stroke="#999" stroke-width="0.7" transform="rotate(12 77.3 230.5)"/>
<text transform="translate(29.70 206.90)" font-size="8.6" text-anchor="end" fill="#383838" stroke="#383838" stroke-width="0.2" textLength="7.6" lengthAdjust="spacingAndGlyphs">10</text>
<text transform="translate(30.10 202.70)" font-size="3.9" text-anchor="start" fill="#383838" stroke="#383838" stroke-width="0.2">6</text>
<line x1="34.70" y1="202.50" x2="36.70" y2="202.50" stroke="#444" stroke-width="1" />
<line x1="35.50" y1="212.86" x2="36.70" y2="212.86" stroke="#888" stroke-width="0.6" />
<line x1="35.50" y1="210.25" x2="36.70" y2="210.25" stroke="#888" stroke-width="0.6" />
<line x1="35.50" y1="208.40" x2="36.70" y2="208.40" stroke="#888" stroke-width="0.6" />
<line x1="35.50" y1="206.96" x2="36.70" y2="206.96" stroke="#888" stroke-width="0.6" />
<line x1="35.50" y1="205.79" x2="36.70" y2="205.79" stroke="#888" stroke-width="0.6" />
<line x1="35.50" y1="204.80" x2="36.70" y2="204.80" stroke="#888" stroke-width="0.6" />
<line x1="35.50" y1="203.94" x2="36.70" y2="203.94" stroke="#888" stroke-width="0.6" />
<line x1="35.50" y1="203.18" x2="36.70" y2="203.18" stroke="#888" stroke-width="0.6" />
<text transform="translate(29.70 221.72)" font-size="8.6" text-anchor="end" fill="#383838" stroke="#383838" stroke-width="0.2" textLength="7.6" lengthAdjust="spacingAndGlyphs">10</text>
<text transform="translate(30.10 217.52)" font-size="3.9" text-anchor="start" fill="#383838" stroke="#383838" stroke-width="0.2">5</text>
<line x1="34.70" y1="217.32" x2="36.70" y2="217.32" stroke="#444" stroke-width="1" />
<line x1="35.50" y1="227.68" x2="36.70" y2="227.68" stroke="#888" stroke-width="0.6" />
<line x1="35.50" y1="225.07" x2="36.70" y2="225.07" stroke="#888" stroke-width="0.6" />
<line x1="35.50" y1="223.22" x2="36.70" y2="223.22" stroke="#888" stroke-width="0.6" />
<line x1="35.50" y1="221.78" x2="36.70" y2="221.78" stroke="#888" stroke-width="0.6" />
<line x1="35.50" y1="220.61" x2="36.70" y2="220.61" stroke="#888" stroke-width="0.6" />
<line x1="35.50" y1="219.62" x2="36.70" y2="219.62" stroke="#888" stroke-width="0.6" />
<line x1="35.50" y1="218.76" x2="36.70" y2="218.76" stroke="#888" stroke-width="0.6" />
<line x1="35.50" y1="218.00" x2="36.70" y2="218.00" stroke="#888" stroke-width="0.6" />
<text transform="translate(29.70 236.54)" font-size="8.6" text-anchor="end" fill="#383838" stroke="#383838" stroke-width="0.2" textLength="7.6" lengthAdjust="spacingAndGlyphs">10</text>
<text transform="translate(30.10 232.34)" font-size="3.9" text-anchor="start" fill="#383838" stroke="#383838" stroke-width="0.2">4</text>
<line x1="34.70" y1="232.14" x2="36.70" y2="232.14" stroke="#444" stroke-width="1" />
<line x1="35.50" y1="242.50" x2="36.70" y2="242.50" stroke="#888" stroke-width="0.6" />
<line x1="35.50" y1="239.89" x2="36.70" y2="239.89" stroke="#888" stroke-width="0.6" />
<line x1="35.50" y1="238.04" x2="36.70" y2="238.04" stroke="#888" stroke-width="0.6" />
<line x1="35.50" y1="236.60" x2="36.70" y2="236.60" stroke="#888" stroke-width="0.6" />
<line x1="35.50" y1="235.43" x2="36.70" y2="235.43" stroke="#888" stroke-width="0.6" />
<line x1="35.50" y1="234.44" x2="36.70" y2="234.44" stroke="#888" stroke-width="0.6" />
<line x1="35.50" y1="233.58" x2="36.70" y2="233.58" stroke="#888" stroke-width="0.6" />
<line x1="35.50" y1="232.82" x2="36.70" y2="232.82" stroke="#888" stroke-width="0.6" />
<text transform="translate(29.70 251.36)" font-size="8.6" text-anchor="end" fill="#383838" stroke="#383838" stroke-width="0.2" textLength="7.6" lengthAdjust="spacingAndGlyphs">10</text>
<text transform="translate(30.10 247.16)" font-size="3.9" text-anchor="start" fill="#383838" stroke="#383838" stroke-width="0.2">3</text>
<line x1="34.70" y1="246.96" x2="36.70" y2="246.96" stroke="#444" stroke-width="1" />
<line x1="35.50" y1="257.32" x2="36.70" y2="257.32" stroke="#888" stroke-width="0.6" />
<line x1="35.50" y1="254.71" x2="36.70" y2="254.71" stroke="#888" stroke-width="0.6" />
<line x1="35.50" y1="252.86" x2="36.70" y2="252.86" stroke="#888" stroke-width="0.6" />
<line x1="35.50" y1="251.42" x2="36.70" y2="251.42" stroke="#888" stroke-width="0.6" />
<line x1="35.50" y1="250.25" x2="36.70" y2="250.25" stroke="#888" stroke-width="0.6" />
<line x1="35.50" y1="249.26" x2="36.70" y2="249.26" stroke="#888" stroke-width="0.6" />
<line x1="35.50" y1="248.40" x2="36.70" y2="248.40" stroke="#888" stroke-width="0.6" />
<line x1="35.50" y1="247.64" x2="36.70" y2="247.64" stroke="#888" stroke-width="0.6" />
<text transform="translate(29.70 266.18)" font-size="8.6" text-anchor="end" fill="#383838" stroke="#383838" stroke-width="0.2" textLength="7.6" lengthAdjust="spacingAndGlyphs">10</text>
<text transform="translate(30.10 261.98)" font-size="3.9" text-anchor="start" fill="#383838" stroke="#383838" stroke-width="0.2">2</text>
<line x1="34.70" y1="261.78" x2="36.70" y2="261.78" stroke="#444" stroke-width="1" />
<line x1="35.50" y1="272.14" x2="36.70" y2="272.14" stroke="#888" stroke-width="0.6" />
<line x1="35.50" y1="269.53" x2="36.70" y2="269.53" stroke="#888" stroke-width="0.6" />
<line x1="35.50" y1="267.68" x2="36.70" y2="267.68" stroke="#888" stroke-width="0.6" />
<line x1="35.50" y1="266.24" x2="36.70" y2="266.24" stroke="#888" stroke-width="0.6" />
<line x1="35.50" y1="265.07" x2="36.70" y2="265.07" stroke="#888" stroke-width="0.6" />
<line x1="35.50" y1="264.08" x2="36.70" y2="264.08" stroke="#888" stroke-width="0.6" />
<line x1="35.50" y1="263.22" x2="36.70" y2="263.22" stroke="#888" stroke-width="0.6" />
<line x1="35.50" y1="262.46" x2="36.70" y2="262.46" stroke="#888" stroke-width="0.6" />
<text transform="translate(29.70 281.00)" font-size="8.6" text-anchor="end" fill="#383838" stroke="#383838" stroke-width="0.2" textLength="7.6" lengthAdjust="spacingAndGlyphs">10</text>
<text transform="translate(30.10 276.80)" font-size="3.9" text-anchor="start" fill="#383838" stroke="#383838" stroke-width="0.2">1</text>
<line x1="34.70" y1="276.60" x2="36.70" y2="276.60" stroke="#444" stroke-width="1" />
<line x1="35.50" y1="286.96" x2="36.70" y2="286.96" stroke="#888" stroke-width="0.6" />
<line x1="35.50" y1="284.35" x2="36.70" y2="284.35" stroke="#888" stroke-width="0.6" />
<line x1="35.50" y1="282.50" x2="36.70" y2="282.50" stroke="#888" stroke-width="0.6" />
<line x1="35.50" y1="281.06" x2="36.70" y2="281.06" stroke="#888" stroke-width="0.6" />
<line x1="35.50" y1="279.89" x2="36.70" y2="279.89" stroke="#888" stroke-width="0.6" />
<line x1="35.50" y1="278.90" x2="36.70" y2="278.90" stroke="#888" stroke-width="0.6" />
<line x1="35.50" y1="278.04" x2="36.70" y2="278.04" stroke="#888" stroke-width="0.6" />
<line x1="35.50" y1="277.28" x2="36.70" y2="277.28" stroke="#888" stroke-width="0.6" />
<line x1="36.50" y1="287.20" x2="36.50" y2="289.60" stroke="#444" stroke-width="1" />
<text transform="translate(39.20 298.40) rotate(-45) scale(0.9 1)" font-size="8.7" text-anchor="end" fill="#383838" stroke="#383838" stroke-width="0.2">0</text>
<line x1="40.64" y1="287.20" x2="40.64" y2="288.40" stroke="#aaa" stroke-width="0.6" />
<line x1="44.78" y1="287.20" x2="44.78" y2="288.40" stroke="#aaa" stroke-width="0.6" />
<line x1="48.92" y1="287.20" x2="48.92" y2="288.40" stroke="#aaa" stroke-width="0.6" />
<line x1="53.06" y1="287.20" x2="53.06" y2="288.40" stroke="#aaa" stroke-width="0.6" />
<line x1="57.90" y1="287.20" x2="57.90" y2="289.60" stroke="#444" stroke-width="1" />
<text transform="translate(60.60 298.40) rotate(-45) scale(0.9 1)" font-size="8.7" text-anchor="end" fill="#383838" stroke="#383838" stroke-width="0.2">300K</text>
<line x1="62.04" y1="287.20" x2="62.04" y2="288.40" stroke="#aaa" stroke-width="0.6" />
<line x1="66.18" y1="287.20" x2="66.18" y2="288.40" stroke="#aaa" stroke-width="0.6" />
<line x1="70.32" y1="287.20" x2="70.32" y2="288.40" stroke="#aaa" stroke-width="0.6" />
<line x1="74.46" y1="287.20" x2="74.46" y2="288.40" stroke="#aaa" stroke-width="0.6" />
<line x1="78.20" y1="287.20" x2="78.20" y2="289.60" stroke="#444" stroke-width="1" />
<text transform="translate(80.90 298.40) rotate(-45) scale(0.9 1)" font-size="8.7" text-anchor="end" fill="#383838" stroke="#383838" stroke-width="0.2">600K</text>
<line x1="82.34" y1="287.20" x2="82.34" y2="288.40" stroke="#aaa" stroke-width="0.6" />
<line x1="86.48" y1="287.20" x2="86.48" y2="288.40" stroke="#aaa" stroke-width="0.6" />
<line x1="90.62" y1="287.20" x2="90.62" y2="288.40" stroke="#aaa" stroke-width="0.6" />
<line x1="94.76" y1="287.20" x2="94.76" y2="288.40" stroke="#aaa" stroke-width="0.6" />
<line x1="98.90" y1="287.20" x2="98.90" y2="289.60" stroke="#444" stroke-width="1" />
<text transform="translate(101.60 298.40) rotate(-45) scale(0.9 1)" font-size="8.7" text-anchor="end" fill="#383838" stroke="#383838" stroke-width="0.2">900K</text>
<line x1="103.04" y1="287.20" x2="103.04" y2="288.40" stroke="#aaa" stroke-width="0.6" />
<line x1="107.18" y1="287.20" x2="107.18" y2="288.40" stroke="#aaa" stroke-width="0.6" />
<line x1="111.32" y1="287.20" x2="111.32" y2="288.40" stroke="#aaa" stroke-width="0.6" />
<line x1="115.46" y1="287.20" x2="115.46" y2="288.40" stroke="#aaa" stroke-width="0.6" />
<line x1="119.30" y1="287.20" x2="119.30" y2="289.60" stroke="#444" stroke-width="1" />
<text transform="translate(120.50 297.60) rotate(-45) scale(0.9 1)" font-size="8.7" text-anchor="end" fill="#383838" stroke="#383838" stroke-width="0.2">1.2M</text>
<text transform="translate(38.00 208.60)" font-size="8.3" text-anchor="start" fill="#383838" stroke="#383838" stroke-width="0.2" textLength="13.4" lengthAdjust="spacingAndGlyphs">16.7</text>
<text transform="translate(38.80 217.20)" font-size="8.6" text-anchor="start" fill="#383838" stroke="#383838" stroke-width="0.2" textLength="8.8" lengthAdjust="spacingAndGlyphs">G<tspan font-size="5.3" dy="1.7">1</tspan><tspan dy="-1.7"></tspan></text>
<text transform="translate(109.60 208.60)" font-size="8.3" text-anchor="middle" fill="#383838" stroke="#383838" stroke-width="0.2" textLength="13.6" lengthAdjust="spacingAndGlyphs">2.67</text>
<text transform="translate(121.50 217.40)" font-size="8.6" text-anchor="end" fill="#383838" stroke="#383838" stroke-width="0.2" textLength="26.8" lengthAdjust="spacingAndGlyphs">S/G<tspan font-size="5" dy="1.6">2</tspan><tspan dy="-1.6">/M</tspan></text>
<text transform="translate(38.80 271.50)" font-size="8.6" text-anchor="start" fill="#383838" stroke="#383838" stroke-width="0.2" textLength="8.8" lengthAdjust="spacingAndGlyphs">G<tspan font-size="5.3" dy="1.7">0</tspan><tspan dy="-1.7"></tspan></text>
<text transform="translate(37.50 281.80)" font-size="8.3" text-anchor="start" fill="#383838" stroke="#383838" stroke-width="0.2" textLength="14.5" lengthAdjust="spacingAndGlyphs">80.0</text>
<text transform="translate(109.20 281.80)" font-size="8.3" text-anchor="middle" fill="#383838" stroke="#383838" stroke-width="0.2" textLength="13.6" lengthAdjust="spacingAndGlyphs">0.67</text>
<text transform="translate(189.90 194.20)" font-size="8.8" text-anchor="middle" fill="#383838" stroke="#383838" stroke-width="0.2" font-style="italic" textLength="27.5" lengthAdjust="spacingAndGlyphs">Cd53<tspan font-size="4.6" dy="-3.4">−/−</tspan></text>
<path d="M176.80,243.20 L176.35,246.64 L175.65,249.97 L174.77,253.10 L173.74,255.93 L172.61,258.37 L171.40,260.35 L170.16,261.81 L168.88,262.70 L167.60,263.00 L166.32,262.70 L165.04,261.81 L163.80,260.35 L162.59,258.37 L161.46,255.93 L160.43,253.10 L159.55,249.97 L158.85,246.64 L158.40,243.20 L158.45,239.76 L158.78,236.43 L159.39,233.30 L160.28,230.47 L161.41,228.03 L162.76,226.05 L164.28,224.59 L165.91,223.70 L167.60,223.40 L169.29,223.70 L170.92,224.59 L172.44,226.05 L173.79,228.03 L174.92,230.47 L175.81,233.30 L176.42,236.43 L176.75,239.76Z" fill="#222" fill-opacity="0.15" stroke="#444" stroke-opacity="0.4" stroke-width="0.45"/>
<path d="M176.11,242.98 L175.69,246.16 L175.05,249.24 L174.24,252.14 L173.28,254.75 L172.23,257.01 L171.12,258.85 L169.96,260.20 L168.79,261.02 L167.60,261.30 L166.41,261.02 L165.24,260.20 L164.08,258.85 L162.97,257.01 L161.92,254.75 L160.96,252.14 L160.15,249.24 L159.51,246.16 L159.09,242.98 L159.13,239.79 L159.44,236.71 L160.01,233.81 L160.83,231.20 L161.88,228.94 L163.12,227.11 L164.52,225.76 L166.03,224.93 L167.60,224.65 L169.17,224.93 L170.68,225.76 L172.08,227.11 L173.32,228.94 L174.37,231.20 L175.19,233.81 L175.76,236.71 L176.07,239.79Z" fill="#222" fill-opacity="0.15" stroke="#444" stroke-opacity="0.4" stroke-width="0.45"/>
<path d="M175.43,242.75 L175.04,245.68 L174.45,248.52 L173.70,251.18 L172.83,253.58 L171.86,255.66 L170.84,257.34 L169.77,258.58 L168.69,259.34 L167.60,259.60 L166.51,259.34 L165.43,258.58 L164.36,257.34 L163.34,255.66 L162.37,253.58 L161.50,251.18 L160.75,248.52 L160.16,245.68 L159.77,242.75 L159.81,239.83 L160.09,236.99 L160.62,234.33 L161.37,231.92 L162.34,229.85 L163.48,228.16 L164.77,226.92 L166.16,226.16 L167.60,225.90 L169.04,226.16 L170.43,226.92 L171.72,228.16 L172.86,229.85 L173.83,231.92 L174.58,234.33 L175.11,236.99 L175.39,239.83Z" fill="#222" fill-opacity="0.15" stroke="#444" stroke-opacity="0.4" stroke-width="0.45"/>
<path d="M174.74,242.53 L174.39,245.20 L173.85,247.79 L173.17,250.22 L172.37,252.41 L171.49,254.30 L170.55,255.84 L169.58,256.97 L168.60,257.67 L167.60,257.90 L166.60,257.67 L165.62,256.97 L164.65,255.84 L163.71,254.30 L162.83,252.41 L162.03,250.22 L161.35,247.79 L160.81,245.20 L160.46,242.53 L160.49,239.86 L160.75,237.27 L161.23,234.84 L161.92,232.65 L162.80,230.75 L163.84,229.22 L165.02,228.08 L166.29,227.39 L167.60,227.16 L168.91,227.39 L170.18,228.08 L171.36,229.22 L172.40,230.75 L173.28,232.65 L173.97,234.84 L174.45,237.27 L174.71,239.86Z" fill="#222" fill-opacity="0.15" stroke="#444" stroke-opacity="0.4" stroke-width="0.45"/>
<path d="M174.06,242.31 L173.74,244.72 L173.25,247.06 L172.63,249.25 L171.91,251.24 L171.11,252.95 L170.27,254.34 L169.39,255.36 L168.50,255.99 L167.60,256.20 L166.70,255.99 L165.81,255.36 L164.93,254.34 L164.09,252.95 L163.29,251.24 L162.57,249.25 L161.95,247.06 L161.46,244.72 L161.14,242.31 L161.18,239.89 L161.41,237.55 L161.84,235.36 L162.46,233.37 L163.26,231.66 L164.20,230.27 L165.27,229.25 L166.41,228.62 L167.60,228.41 L168.79,228.62 L169.93,229.25 L171.00,230.27 L171.94,231.66 L172.74,233.37 L173.36,235.36 L173.79,237.55 L174.02,239.89Z" fill="#222" fill-opacity="0.15" stroke="#444" stroke-opacity="0.4" stroke-width="0.45"/>
<path d="M173.37,242.08 L173.09,244.24 L172.65,246.33 L172.10,248.29 L171.45,250.07 L170.74,251.60 L169.99,252.84 L169.20,253.75 L168.40,254.31 L167.60,254.50 L166.80,254.31 L166.00,253.75 L165.21,252.84 L164.46,251.60 L163.75,250.07 L163.10,248.29 L162.55,246.33 L162.11,244.24 L161.83,242.08 L161.86,239.93 L162.07,237.83 L162.45,235.87 L163.01,234.10 L163.72,232.57 L164.56,231.33 L165.51,230.41 L166.54,229.85 L167.60,229.66 L168.66,229.85 L169.69,230.41 L170.64,231.33 L171.48,232.57 L172.19,234.10 L172.75,235.87 L173.13,237.83 L173.34,239.93Z" fill="#222" fill-opacity="0.15" stroke="#444" stroke-opacity="0.4" stroke-width="0.45"/>
<path d="M172.69,241.86 L172.43,243.76 L172.05,245.60 L171.56,247.33 L170.99,248.89 L170.37,250.24 L169.70,251.34 L169.01,252.14 L168.31,252.64 L167.60,252.80 L166.89,252.64 L166.19,252.14 L165.50,251.34 L164.83,250.24 L164.21,248.89 L163.64,247.33 L163.15,245.60 L162.77,243.76 L162.51,241.86 L162.54,239.96 L162.72,238.12 L163.06,236.39 L163.55,234.82 L164.18,233.47 L164.93,232.38 L165.76,231.57 L166.66,231.08 L167.60,230.91 L168.54,231.08 L169.44,231.57 L170.27,232.38 L171.02,233.47 L171.65,234.82 L172.14,236.39 L172.48,238.12 L172.66,239.96Z" fill="#222" fill-opacity="0.15" stroke="#444" stroke-opacity="0.4" stroke-width="0.45"/>
<path d="M172.00,241.63 L171.78,243.28 L171.45,244.87 L171.03,246.37 L170.54,247.72 L169.99,248.89 L169.42,249.83 L168.82,250.53 L168.21,250.96 L167.60,251.10 L166.99,250.96 L166.38,250.53 L165.78,249.83 L165.21,248.89 L164.66,247.72 L164.17,246.37 L163.75,244.87 L163.42,243.28 L163.20,241.63 L163.22,239.99 L163.38,238.40 L163.68,236.90 L164.10,235.55 L164.64,234.38 L165.29,233.44 L166.01,232.74 L166.79,232.31 L167.60,232.17 L168.41,232.31 L169.19,232.74 L169.91,233.44 L170.56,234.38 L171.10,235.55 L171.52,236.90 L171.82,238.40 L171.98,239.99Z" fill="#222" fill-opacity="0.15" stroke="#444" stroke-opacity="0.4" stroke-width="0.45"/>
<path d="M171.31,241.41 L171.13,242.80 L170.85,244.14 L170.49,245.41 L170.08,246.55 L169.62,247.53 L169.14,248.33 L168.63,248.92 L168.12,249.28 L167.60,249.40 L167.08,249.28 L166.57,248.92 L166.06,248.33 L165.58,247.53 L165.12,246.55 L164.71,245.41 L164.35,244.14 L164.07,242.80 L163.89,241.41 L163.90,240.02 L164.04,238.68 L164.29,237.41 L164.65,236.27 L165.10,235.29 L165.65,234.49 L166.26,233.90 L166.92,233.54 L167.60,233.42 L168.28,233.54 L168.94,233.90 L169.55,234.49 L170.10,235.29 L170.55,236.27 L170.91,237.41 L171.16,238.68 L171.30,240.02Z" fill="#222" fill-opacity="0.15" stroke="#444" stroke-opacity="0.4" stroke-width="0.45"/>
<path d="M170.63,241.19 L170.48,242.32 L170.25,243.42 L169.96,244.45 L169.62,245.38 L169.25,246.18 L168.85,246.83 L168.44,247.31 L168.02,247.60 L167.60,247.70 L167.18,247.60 L166.76,247.31 L166.35,246.83 L165.95,246.18 L165.58,245.38 L165.24,244.45 L164.95,243.42 L164.72,242.32 L164.57,241.19 L164.59,240.06 L164.70,238.96 L164.90,237.93 L165.19,237.00 L165.56,236.20 L166.01,235.54 L166.51,235.06 L167.04,234.77 L167.60,234.67 L168.16,234.77 L168.69,235.06 L169.19,235.54 L169.64,236.20 L170.01,237.00 L170.30,237.93 L170.50,238.96 L170.61,240.06Z" fill="#222" fill-opacity="0.15" stroke="#444" stroke-opacity="0.4" stroke-width="0.45"/>
<path d="M169.94,240.96 L169.83,241.84 L169.65,242.69 L169.43,243.48 L169.16,244.20 L168.87,244.82 L168.57,245.33 L168.25,245.70 L167.93,245.93 L167.60,246.00 L167.27,245.93 L166.95,245.70 L166.63,245.33 L166.33,244.82 L166.04,244.20 L165.77,243.48 L165.55,242.69 L165.37,241.84 L165.26,240.96 L165.27,240.09 L165.35,239.24 L165.51,238.44 L165.74,237.72 L166.03,237.10 L166.37,236.60 L166.75,236.23 L167.17,236.00 L167.60,235.92 L168.03,236.00 L168.45,236.23 L168.83,236.60 L169.17,237.10 L169.46,237.72 L169.69,238.44 L169.85,239.24 L169.93,240.09Z" fill="#222" fill-opacity="0.15" stroke="#444" stroke-opacity="0.4" stroke-width="0.45"/>
<path d="M169.26,240.74 L169.17,241.36 L169.05,241.96 L168.89,242.52 L168.71,243.03 L168.50,243.47 L168.28,243.83 L168.06,244.09 L167.83,244.25 L167.60,244.30 L167.37,244.25 L167.14,244.09 L166.92,243.83 L166.70,243.47 L166.49,243.03 L166.31,242.52 L166.15,241.96 L166.03,241.36 L165.94,240.74 L165.95,240.12 L166.01,239.52 L166.12,238.96 L166.28,238.45 L166.49,238.01 L166.73,237.65 L167.00,237.39 L167.30,237.23 L167.60,237.18 L167.90,237.23 L168.20,237.39 L168.47,237.65 L168.71,238.01 L168.92,238.45 L169.08,238.96 L169.19,239.52 L169.25,240.12Z" fill="#222" fill-opacity="0.15" stroke="#444" stroke-opacity="0.4" stroke-width="0.45"/>
<ellipse cx="167.60" cy="243.00" rx="0.8" ry="1.5" fill="#fff" fill-opacity="0.35"/>
<rect x="148.20" y="199.20" width="87" height="88" fill="none" stroke="#aaa" stroke-width="0.8"/>
<line x1="170.00" y1="199.20" x2="170.00" y2="287.20" stroke="#3a3a3a" stroke-width="1" />
<line x1="148.20" y1="237.30" x2="235.20" y2="237.30" stroke="#3a3a3a" stroke-width="1" />
<ellipse cx="174.50" cy="229.5" rx="3.5" ry="3.0" fill="none" stroke="#aaa" stroke-width="0.6"/>
<ellipse cx="176.50" cy="229.5" rx="5.5" ry="3.5" fill="none" stroke="#aaa" stroke-width="0.6"/>
<ellipse cx="178.50" cy="229.5" rx="7.5" ry="4.0" fill="none" stroke="#aaa" stroke-width="0.6"/>
<ellipse cx="180.50" cy="229.5" rx="9.5" ry="4.4" fill="none" stroke="#aaa" stroke-width="0.6"/>
<text transform="translate(141.20 206.90)" font-size="8.6" text-anchor="end" fill="#383838" stroke="#383838" stroke-width="0.2" textLength="7.6" lengthAdjust="spacingAndGlyphs">10</text>
<text transform="translate(141.60 202.70)" font-size="3.9" text-anchor="start" fill="#383838" stroke="#383838" stroke-width="0.2">6</text>
<line x1="146.20" y1="202.50" x2="148.20" y2="202.50" stroke="#444" stroke-width="1" />
<line x1="147.00" y1="212.86" x2="148.20" y2="212.86" stroke="#888" stroke-width="0.6" />
<line x1="147.00" y1="210.25" x2="148.20" y2="210.25" stroke="#888" stroke-width="0.6" />
<line x1="147.00" y1="208.40" x2="148.20" y2="208.40" stroke="#888" stroke-width="0.6" />
<line x1="147.00" y1="206.96" x2="148.20" y2="206.96" stroke="#888" stroke-width="0.6" />
<line x1="147.00" y1="205.79" x2="148.20" y2="205.79" stroke="#888" stroke-width="0.6" />
<line x1="147.00" y1="204.80" x2="148.20" y2="204.80" stroke="#888" stroke-width="0.6" />
<line x1="147.00" y1="203.94" x2="148.20" y2="203.94" stroke="#888" stroke-width="0.6" />
<line x1="147.00" y1="203.18" x2="148.20" y2="203.18" stroke="#888" stroke-width="0.6" />
<text transform="translate(141.20 221.72)" font-size="8.6" text-anchor="end" fill="#383838" stroke="#383838" stroke-width="0.2" textLength="7.6" lengthAdjust="spacingAndGlyphs">10</text>
<text transform="translate(141.60 217.52)" font-size="3.9" text-anchor="start" fill="#383838" stroke="#383838" stroke-width="0.2">5</text>
<line x1="146.20" y1="217.32" x2="148.20" y2="217.32" stroke="#444" stroke-width="1" />
<line x1="147.00" y1="227.68" x2="148.20" y2="227.68" stroke="#888" stroke-width="0.6" />
<line x1="147.00" y1="225.07" x2="148.20" y2="225.07" stroke="#888" stroke-width="0.6" />
<line x1="147.00" y1="223.22" x2="148.20" y2="223.22" stroke="#888" stroke-width="0.6" />
<line x1="147.00" y1="221.78" x2="148.20" y2="221.78" stroke="#888" stroke-width="0.6" />
<line x1="147.00" y1="220.61" x2="148.20" y2="220.61" stroke="#888" stroke-width="0.6" />
<line x1="147.00" y1="219.62" x2="148.20" y2="219.62" stroke="#888" stroke-width="0.6" />
<line x1="147.00" y1="218.76" x2="148.20" y2="218.76" stroke="#888" stroke-width="0.6" />
<line x1="147.00" y1="218.00" x2="148.20" y2="218.00" stroke="#888" stroke-width="0.6" />
<text transform="translate(141.20 236.54)" font-size="8.6" text-anchor="end" fill="#383838" stroke="#383838" stroke-width="0.2" textLength="7.6" lengthAdjust="spacingAndGlyphs">10</text>
<text transform="translate(141.60 232.34)" font-size="3.9" text-anchor="start" fill="#383838" stroke="#383838" stroke-width="0.2">4</text>
<line x1="146.20" y1="232.14" x2="148.20" y2="232.14" stroke="#444" stroke-width="1" />
<line x1="147.00" y1="242.50" x2="148.20" y2="242.50" stroke="#888" stroke-width="0.6" />
<line x1="147.00" y1="239.89" x2="148.20" y2="239.89" stroke="#888" stroke-width="0.6" />
<line x1="147.00" y1="238.04" x2="148.20" y2="238.04" stroke="#888" stroke-width="0.6" />
<line x1="147.00" y1="236.60" x2="148.20" y2="236.60" stroke="#888" stroke-width="0.6" />
<line x1="147.00" y1="235.43" x2="148.20" y2="235.43" stroke="#888" stroke-width="0.6" />
<line x1="147.00" y1="234.44" x2="148.20" y2="234.44" stroke="#888" stroke-width="0.6" />
<line x1="147.00" y1="233.58" x2="148.20" y2="233.58" stroke="#888" stroke-width="0.6" />
<line x1="147.00" y1="232.82" x2="148.20" y2="232.82" stroke="#888" stroke-width="0.6" />
<text transform="translate(141.20 251.36)" font-size="8.6" text-anchor="end" fill="#383838" stroke="#383838" stroke-width="0.2" textLength="7.6" lengthAdjust="spacingAndGlyphs">10</text>
<text transform="translate(141.60 247.16)" font-size="3.9" text-anchor="start" fill="#383838" stroke="#383838" stroke-width="0.2">3</text>
<line x1="146.20" y1="246.96" x2="148.20" y2="246.96" stroke="#444" stroke-width="1" />
<line x1="147.00" y1="257.32" x2="148.20" y2="257.32" stroke="#888" stroke-width="0.6" />
<line x1="147.00" y1="254.71" x2="148.20" y2="254.71" stroke="#888" stroke-width="0.6" />
<line x1="147.00" y1="252.86" x2="148.20" y2="252.86" stroke="#888" stroke-width="0.6" />
<line x1="147.00" y1="251.42" x2="148.20" y2="251.42" stroke="#888" stroke-width="0.6" />
<line x1="147.00" y1="250.25" x2="148.20" y2="250.25" stroke="#888" stroke-width="0.6" />
<line x1="147.00" y1="249.26" x2="148.20" y2="249.26" stroke="#888" stroke-width="0.6" />
<line x1="147.00" y1="248.40" x2="148.20" y2="248.40" stroke="#888" stroke-width="0.6" />
<line x1="147.00" y1="247.64" x2="148.20" y2="247.64" stroke="#888" stroke-width="0.6" />
<text transform="translate(141.20 266.18)" font-size="8.6" text-anchor="end" fill="#383838" stroke="#383838" stroke-width="0.2" textLength="7.6" lengthAdjust="spacingAndGlyphs">10</text>
<text transform="translate(141.60 261.98)" font-size="3.9" text-anchor="start" fill="#383838" stroke="#383838" stroke-width="0.2">2</text>
<line x1="146.20" y1="261.78" x2="148.20" y2="261.78" stroke="#444" stroke-width="1" />
<line x1="147.00" y1="272.14" x2="148.20" y2="272.14" stroke="#888" stroke-width="0.6" />
<line x1="147.00" y1="269.53" x2="148.20" y2="269.53" stroke="#888" stroke-width="0.6" />
<line x1="147.00" y1="267.68" x2="148.20" y2="267.68" stroke="#888" stroke-width="0.6" />
<line x1="147.00" y1="266.24" x2="148.20" y2="266.24" stroke="#888" stroke-width="0.6" />
<line x1="147.00" y1="265.07" x2="148.20" y2="265.07" stroke="#888" stroke-width="0.6" />
<line x1="147.00" y1="264.08" x2="148.20" y2="264.08" stroke="#888" stroke-width="0.6" />
<line x1="147.00" y1="263.22" x2="148.20" y2="263.22" stroke="#888" stroke-width="0.6" />
<line x1="147.00" y1="262.46" x2="148.20" y2="262.46" stroke="#888" stroke-width="0.6" />
<text transform="translate(141.20 281.00)" font-size="8.6" text-anchor="end" fill="#383838" stroke="#383838" stroke-width="0.2" textLength="7.6" lengthAdjust="spacingAndGlyphs">10</text>
<text transform="translate(141.60 276.80)" font-size="3.9" text-anchor="start" fill="#383838" stroke="#383838" stroke-width="0.2">1</text>
<line x1="146.20" y1="276.60" x2="148.20" y2="276.60" stroke="#444" stroke-width="1" />
<line x1="147.00" y1="286.96" x2="148.20" y2="286.96" stroke="#888" stroke-width="0.6" />
<line x1="147.00" y1="284.35" x2="148.20" y2="284.35" stroke="#888" stroke-width="0.6" />
<line x1="147.00" y1="282.50" x2="148.20" y2="282.50" stroke="#888" stroke-width="0.6" />
<line x1="147.00" y1="281.06" x2="148.20" y2="281.06" stroke="#888" stroke-width="0.6" />
<line x1="147.00" y1="279.89" x2="148.20" y2="279.89" stroke="#888" stroke-width="0.6" />
<line x1="147.00" y1="278.90" x2="148.20" y2="278.90" stroke="#888" stroke-width="0.6" />
<line x1="147.00" y1="278.04" x2="148.20" y2="278.04" stroke="#888" stroke-width="0.6" />
<line x1="147.00" y1="277.28" x2="148.20" y2="277.28" stroke="#888" stroke-width="0.6" />
<line x1="148.00" y1="287.20" x2="148.00" y2="289.60" stroke="#444" stroke-width="1" />
<text transform="translate(150.70 298.40) rotate(-45) scale(0.9 1)" font-size="8.7" text-anchor="end" fill="#383838" stroke="#383838" stroke-width="0.2">0</text>
<line x1="152.14" y1="287.20" x2="152.14" y2="288.40" stroke="#aaa" stroke-width="0.6" />
<line x1="156.28" y1="287.20" x2="156.28" y2="288.40" stroke="#aaa" stroke-width="0.6" />
<line x1="160.42" y1="287.20" x2="160.42" y2="288.40" stroke="#aaa" stroke-width="0.6" />
<line x1="164.56" y1="287.20" x2="164.56" y2="288.40" stroke="#aaa" stroke-width="0.6" />
<line x1="169.40" y1="287.20" x2="169.40" y2="289.60" stroke="#444" stroke-width="1" />
<text transform="translate(172.10 298.40) rotate(-45) scale(0.9 1)" font-size="8.7" text-anchor="end" fill="#383838" stroke="#383838" stroke-width="0.2">300K</text>
<line x1="173.54" y1="287.20" x2="173.54" y2="288.40" stroke="#aaa" stroke-width="0.6" />
<line x1="177.68" y1="287.20" x2="177.68" y2="288.40" stroke="#aaa" stroke-width="0.6" />
<line x1="181.82" y1="287.20" x2="181.82" y2="288.40" stroke="#aaa" stroke-width="0.6" />
<line x1="185.96" y1="287.20" x2="185.96" y2="288.40" stroke="#aaa" stroke-width="0.6" />
<line x1="189.70" y1="287.20" x2="189.70" y2="289.60" stroke="#444" stroke-width="1" />
<text transform="translate(192.40 298.40) rotate(-45) scale(0.9 1)" font-size="8.7" text-anchor="end" fill="#383838" stroke="#383838" stroke-width="0.2">600K</text>
<line x1="193.84" y1="287.20" x2="193.84" y2="288.40" stroke="#aaa" stroke-width="0.6" />
<line x1="197.98" y1="287.20" x2="197.98" y2="288.40" stroke="#aaa" stroke-width="0.6" />
<line x1="202.12" y1="287.20" x2="202.12" y2="288.40" stroke="#aaa" stroke-width="0.6" />
<line x1="206.26" y1="287.20" x2="206.26" y2="288.40" stroke="#aaa" stroke-width="0.6" />
<line x1="210.40" y1="287.20" x2="210.40" y2="289.60" stroke="#444" stroke-width="1" />
<text transform="translate(213.10 298.40) rotate(-45) scale(0.9 1)" font-size="8.7" text-anchor="end" fill="#383838" stroke="#383838" stroke-width="0.2">900K</text>
<line x1="214.54" y1="287.20" x2="214.54" y2="288.40" stroke="#aaa" stroke-width="0.6" />
<line x1="218.68" y1="287.20" x2="218.68" y2="288.40" stroke="#aaa" stroke-width="0.6" />
<line x1="222.82" y1="287.20" x2="222.82" y2="288.40" stroke="#aaa" stroke-width="0.6" />
<line x1="226.96" y1="287.20" x2="226.96" y2="288.40" stroke="#aaa" stroke-width="0.6" />
<line x1="230.80" y1="287.20" x2="230.80" y2="289.60" stroke="#444" stroke-width="1" />
<text transform="translate(232.00 297.60) rotate(-45) scale(0.9 1)" font-size="8.7" text-anchor="end" fill="#383838" stroke="#383838" stroke-width="0.2">1.2M</text>
<text transform="translate(149.50 208.60)" font-size="8.3" text-anchor="start" fill="#383838" stroke="#383838" stroke-width="0.2" textLength="13.4" lengthAdjust="spacingAndGlyphs">17.7</text>
<text transform="translate(150.30 217.20)" font-size="8.6" text-anchor="start" fill="#383838" stroke="#383838" stroke-width="0.2" textLength="8.8" lengthAdjust="spacingAndGlyphs">G<tspan font-size="5.3" dy="1.7">1</tspan><tspan dy="-1.7"></tspan></text>
<text transform="translate(221.30 208.60)" font-size="8.3" text-anchor="middle" fill="#383838" stroke="#383838" stroke-width="0.2" textLength="13.6" lengthAdjust="spacingAndGlyphs">6.80</text>
<text transform="translate(233.00 217.40)" font-size="8.6" text-anchor="end" fill="#383838" stroke="#383838" stroke-width="0.2" textLength="26.8" lengthAdjust="spacingAndGlyphs">S/G<tspan font-size="5" dy="1.6">2</tspan><tspan dy="-1.6">/M</tspan></text>
<text transform="translate(150.30 271.50)" font-size="8.6" text-anchor="start" fill="#383838" stroke="#383838" stroke-width="0.2" textLength="8.8" lengthAdjust="spacingAndGlyphs">G<tspan font-size="5.3" dy="1.7">0</tspan><tspan dy="-1.7"></tspan></text>
<text transform="translate(149.00 281.80)" font-size="8.3" text-anchor="start" fill="#383838" stroke="#383838" stroke-width="0.2" textLength="14.5" lengthAdjust="spacingAndGlyphs">75.5</text>
<text transform="translate(229.20 281.80)" font-size="8.3" text-anchor="middle" fill="#383838" stroke="#383838" stroke-width="0.2">0</text>
<line x1="11.90" y1="222.00" x2="11.90" y2="259.60" stroke="#333" stroke-width="1.3" />
<path d="M 11.9 216.3 L 9.3 223.3 L 14.5 223.3 Z" stroke="#333" stroke-width="0.5" fill="#222" />
<text transform="translate(15.20 271.00) rotate(-90)" font-size="8.8" text-anchor="middle" fill="#383838" stroke="#383838" stroke-width="0.2" textLength="18.5" lengthAdjust="spacingAndGlyphs">Ki-67</text>
<text transform="translate(81.50 324.20)" font-size="9" text-anchor="middle" fill="#383838" stroke="#383838" stroke-width="0.2" textLength="15.2" lengthAdjust="spacingAndGlyphs">DAPI</text>
<line x1="94.00" y1="320.70" x2="177.00" y2="320.70" stroke="#333" stroke-width="1.3" />
<path d="M 182.7 320.7 L 176 317.6 L 176 323.8 Z" stroke="#333" stroke-width="0.5" fill="#222" />
<text transform="translate(252.50 178.80)" font-size="11.8" text-anchor="start" fill="#111" font-weight="bold">D</text>
<line x1="283.30" y1="192.00" x2="283.30" y2="281.40" stroke="#222" stroke-width="1.2" />
<line x1="280.80" y1="280.80" x2="413.60" y2="280.80" stroke="#222" stroke-width="1.2" />
<line x1="280.30" y1="280.80" x2="283.30" y2="280.80" stroke="#222" stroke-width="1" />
<text transform="translate(277.60 283.70) scale(0.92 1)" font-size="8.3" text-anchor="end" fill="#383838" stroke="#383838" stroke-width="0.2">0</text>
<line x1="280.30" y1="259.52" x2="283.30" y2="259.52" stroke="#222" stroke-width="1" />
<text transform="translate(277.60 262.42) scale(0.92 1)" font-size="8.3" text-anchor="end" fill="#383838" stroke="#383838" stroke-width="0.2">25</text>
<line x1="280.30" y1="238.24" x2="283.30" y2="238.24" stroke="#222" stroke-width="1" />
<text transform="translate(277.60 241.14) scale(0.92 1)" font-size="8.3" text-anchor="end" fill="#383838" stroke="#383838" stroke-width="0.2">50</text>
<line x1="280.30" y1="216.96" x2="283.30" y2="216.96" stroke="#222" stroke-width="1" />
<text transform="translate(277.60 219.86) scale(0.92 1)" font-size="8.3" text-anchor="end" fill="#383838" stroke="#383838" stroke-width="0.2">75</text>
<line x1="280.30" y1="195.68" x2="283.30" y2="195.68" stroke="#222" stroke-width="1" />
<text transform="translate(277.60 198.58) scale(0.92 1)" font-size="8.3" text-anchor="end" fill="#383838" stroke="#383838" stroke-width="0.2">100</text>
<line x1="283.30" y1="280.80" x2="283.30" y2="283.80" stroke="#222" stroke-width="1" />
<text transform="translate(283.30 292.90) scale(0.92 1)" font-size="8.3" text-anchor="middle" fill="#383838" stroke="#383838" stroke-width="0.2">0</text>
<line x1="304.60" y1="280.80" x2="304.60" y2="283.80" stroke="#222" stroke-width="1" />
<text transform="translate(304.60 292.90) scale(0.92 1)" font-size="8.3" text-anchor="middle" fill="#383838" stroke="#383838" stroke-width="0.2">7</text>
<line x1="325.90" y1="280.80" x2="325.90" y2="283.80" stroke="#222" stroke-width="1" />
<text transform="translate(325.90 292.90) scale(0.92 1)" font-size="8.3" text-anchor="middle" fill="#383838" stroke="#383838" stroke-width="0.2">14</text>
<line x1="347.20" y1="280.80" x2="347.20" y2="283.80" stroke="#222" stroke-width="1" />
<text transform="translate(347.20 292.90) scale(0.92 1)" font-size="8.3" text-anchor="middle" fill="#383838" stroke="#383838" stroke-width="0.2">21</text>
<line x1="368.50" y1="280.80" x2="368.50" y2="283.80" stroke="#222" stroke-width="1" />
<text transform="translate(368.50 292.90) scale(0.92 1)" font-size="8.3" text-anchor="middle" fill="#383838" stroke="#383838" stroke-width="0.2">28</text>
<line x1="389.80" y1="280.80" x2="389.80" y2="283.80" stroke="#222" stroke-width="1" />
<text transform="translate(389.80 292.90) scale(0.92 1)" font-size="8.3" text-anchor="middle" fill="#383838" stroke="#383838" stroke-width="0.2">35</text>
<line x1="411.10" y1="280.80" x2="411.10" y2="283.80" stroke="#222" stroke-width="1" />
<text transform="translate(411.10 292.90) scale(0.92 1)" font-size="8.3" text-anchor="middle" fill="#383838" stroke="#383838" stroke-width="0.2">42</text>
<text transform="translate(348.50 305.60)" font-size="9" text-anchor="middle" fill="#383838" stroke="#383838" stroke-width="0.2" textLength="76.5" lengthAdjust="spacingAndGlyphs">Days of 5-FU treatment</text>
<text transform="translate(259.60 235.20) rotate(-90)" font-size="9.1" text-anchor="middle" fill="#383838" stroke="#383838" stroke-width="0.2" textLength="52.6" lengthAdjust="spacingAndGlyphs">Percent survival</text>
<line x1="283.30" y1="184.50" x2="283.30" y2="190.50" stroke="#111" stroke-width="1.1" />
<path d="M 283.30 193.3 L 281.60 189.3 L 285.00 189.3 Z" stroke="#111" stroke-width="0.3" fill="#111" />
<line x1="304.60" y1="184.50" x2="304.60" y2="190.50" stroke="#111" stroke-width="1.1" />
<path d="M 304.60 193.3 L 302.90 189.3 L 306.30 189.3 Z" stroke="#111" stroke-width="0.3" fill="#111" />
<line x1="325.90" y1="184.50" x2="325.90" y2="190.50" stroke="#111" stroke-width="1.1" />
<path d="M 325.90 193.3 L 324.20 189.3 L 327.60 189.3 Z" stroke="#111" stroke-width="0.3" fill="#111" />
<line x1="347.20" y1="184.50" x2="347.20" y2="190.50" stroke="#111" stroke-width="1.1" />
<path d="M 347.20 193.3 L 345.50 189.3 L 348.90 189.3 Z" stroke="#111" stroke-width="0.3" fill="#111" />
<line x1="368.50" y1="184.50" x2="368.50" y2="190.50" stroke="#111" stroke-width="1.1" />
<path d="M 368.50 193.3 L 366.80 189.3 L 370.20 189.3 Z" stroke="#111" stroke-width="0.3" fill="#111" />
<line x1="389.80" y1="184.50" x2="389.80" y2="190.50" stroke="#111" stroke-width="1.1" />
<path d="M 389.80 193.3 L 388.10 189.3 L 391.50 189.3 Z" stroke="#111" stroke-width="0.3" fill="#111" />
<polyline points="322.60,208.00 322.60,224.00 325.80,224.00 325.80,241.30 328.90,241.30 328.90,258.20 334.60,258.20 334.60,263.90 337.70,263.90 337.70,275.20 359.20,275.20 359.20,280.50" fill="none" stroke="#cc3352" stroke-width="1.6" stroke-dasharray="2.6,1.7"/>
<polyline points="283.30,195.70 319.40,195.70 319.40,202.00 322.60,202.00 322.60,208.00 337.60,208.00 337.60,220.40 350.20,220.40 350.20,232.40 368.50,232.40 368.50,245.00 393.20,245.00 393.20,250.90 411.10,250.90" fill="none" stroke="#2b5a85" stroke-width="1.4"/>
<line x1="411.10" y1="249.30" x2="411.10" y2="252.50" stroke="#2b5a85" stroke-width="1" />
<line x1="287.50" y1="267.00" x2="297.60" y2="267.00" stroke="#2b5a85" stroke-width="1.4" />
<line x1="292.50" y1="265.60" x2="292.50" y2="268.40" stroke="#2b5a85" stroke-width="0.8" />
<text transform="translate(300.70 269.90)" font-size="8.3" text-anchor="start" fill="#383838" stroke="#383838" stroke-width="0.2" textLength="11.5" lengthAdjust="spacingAndGlyphs">WT</text>
<line x1="287.50" y1="274.60" x2="298.80" y2="274.60" stroke="#c8354f" stroke-width="1.4" stroke-dasharray="2.2,1.6"/>
<text transform="translate(302.00 278.40)" font-size="8.3" text-anchor="start" fill="#383838" stroke="#383838" stroke-width="0.2" font-style="italic" textLength="18" lengthAdjust="spacingAndGlyphs">Cd53</text>
<text transform="translate(320.50 274.30)" font-size="5" text-anchor="start" fill="#383838" stroke="#383838" stroke-width="0.2" font-style="italic" textLength="7" lengthAdjust="spacingAndGlyphs">−/−</text>
<text transform="translate(370.50 271.80)" font-size="7.4" text-anchor="middle" fill="#333" stroke="#333" stroke-width="0.2" textLength="12.5" lengthAdjust="spacingAndGlyphs">****</text>
<text transform="translate(411.30 277.20)" font-size="8.3" text-anchor="end" fill="#383838" stroke="#383838" stroke-width="0.2" textLength="31.5" lengthAdjust="spacingAndGlyphs"><tspan font-style="italic">P</tspan> &lt; .0001</text>
<text transform="translate(435.50 178.80)" font-size="11.8" text-anchor="start" fill="#111" font-weight="bold">E</text>
<line x1="459.90" y1="182.30" x2="459.90" y2="285.20" stroke="#222" stroke-width="1.2" />
<line x1="457.40" y1="284.60" x2="508.60" y2="284.60" stroke="#222" stroke-width="1.2" />
<line x1="456.90" y1="284.60" x2="459.90" y2="284.60" stroke="#222" stroke-width="1" />
<text transform="translate(454.20 287.50) scale(0.92 1)" font-size="8.3" text-anchor="end" fill="#383838" stroke="#383838" stroke-width="0.2">0</text>
<line x1="456.90" y1="259.62" x2="459.90" y2="259.62" stroke="#222" stroke-width="1" />
<text transform="translate(454.20 262.52) scale(0.92 1)" font-size="8.3" text-anchor="end" fill="#383838" stroke="#383838" stroke-width="0.2">2</text>
<line x1="456.90" y1="234.64" x2="459.90" y2="234.64" stroke="#222" stroke-width="1" />
<text transform="translate(454.20 237.54) scale(0.92 1)" font-size="8.3" text-anchor="end" fill="#383838" stroke="#383838" stroke-width="0.2">4</text>
<line x1="456.90" y1="209.66" x2="459.90" y2="209.66" stroke="#222" stroke-width="1" />
<text transform="translate(454.20 212.56) scale(0.92 1)" font-size="8.3" text-anchor="end" fill="#383838" stroke="#383838" stroke-width="0.2">6</text>
<line x1="456.90" y1="184.68" x2="459.90" y2="184.68" stroke="#222" stroke-width="1" />
<text transform="translate(454.20 187.58) scale(0.92 1)" font-size="8.3" text-anchor="end" fill="#383838" stroke="#383838" stroke-width="0.2">8</text>
<text transform="translate(443.30 232.50) rotate(-90)" font-size="9" text-anchor="middle" fill="#383838" stroke="#383838" stroke-width="0.2" textLength="63.5" lengthAdjust="spacingAndGlyphs">WBC/femur (x10<tspan font-size="5.5" dy="-3.2">6</tspan><tspan dy="3.2">)</tspan></text>
<rect x="467.2" y="230.27" width="13.6" height="54.33" fill="#6d80b3" stroke="#2c4f7e" stroke-width="1"/>
<line x1="473.90" y1="219.30" x2="473.90" y2="241.00" stroke="#2b5a85" stroke-width="1.1" />
<line x1="470.70" y1="219.30" x2="477.10" y2="219.30" stroke="#2b5a85" stroke-width="1.1" />
<line x1="470.70" y1="241.00" x2="477.10" y2="241.00" stroke="#2b5a85" stroke-width="1.1" />
<circle cx="473.90" cy="202.90" r="1.8" stroke="#2d6595" fill="#2d6595" stroke-width="0.4"/>
<circle cx="473.90" cy="205.90" r="1.8" stroke="#2d6595" fill="#2d6595" stroke-width="0.4"/>
<circle cx="473.90" cy="224.80" r="1.8" stroke="#2d6595" fill="#2d6595" stroke-width="0.4"/>
<circle cx="473.90" cy="232.70" r="1.8" stroke="#2d6595" fill="#2d6595" stroke-width="0.4"/>
<circle cx="473.90" cy="237.70" r="1.8" stroke="#2d6595" fill="#2d6595" stroke-width="0.4"/>
<circle cx="473.90" cy="270.40" r="1.8" stroke="#2d6595" fill="#2d6595" stroke-width="0.4"/>
<rect x="488" y="278.98" width="14" height="5.62" fill="#e8a0a0" stroke="#d04050" stroke-width="0.8"/>
<rect x="488.40" y="274.00" width="2.8" height="2.8" stroke="#d8283c" fill="#d8283c" stroke-width="0.4"/>
<rect x="497.30" y="275.30" width="2.8" height="2.8" stroke="#d8283c" fill="#d8283c" stroke-width="0.4"/>
<rect x="499.60" y="273.80" width="2.8" height="2.8" stroke="#d8283c" fill="#d8283c" stroke-width="0.4"/>
<rect x="491.30" y="277.90" width="2.8" height="2.8" stroke="#d8283c" fill="#d8283c" stroke-width="0.4"/>
<rect x="494.30" y="277.90" width="2.8" height="2.8" stroke="#d8283c" fill="#d8283c" stroke-width="0.4"/>
<rect x="488.40" y="280.60" width="2.8" height="2.8" stroke="#d8283c" fill="#d8283c" stroke-width="0.4"/>
<rect x="499.30" y="280.90" width="2.8" height="2.8" stroke="#d8283c" fill="#d8283c" stroke-width="0.4"/>
<rect x="494.60" y="281.10" width="2.8" height="2.8" stroke="#d8283c" fill="#d8283c" stroke-width="0.4"/>
<path d="M 473.9 197 L 473.9 191.7 L 495.7 191.7 L 495.7 264.4" stroke="#333" stroke-width="1" fill="none" />
<text transform="translate(485.00 190.80)" font-size="8" text-anchor="middle" fill="#333" stroke="#333" stroke-width="0.2">**</text>
<line x1="473.90" y1="284.60" x2="473.90" y2="287.40" stroke="#222" stroke-width="1" />
<line x1="495.70" y1="284.60" x2="495.70" y2="287.40" stroke="#222" stroke-width="1" />
<text transform="translate(474.00 298.00)" font-size="8.3" text-anchor="middle" fill="#383838" stroke="#383838" stroke-width="0.2" textLength="11" lengthAdjust="spacingAndGlyphs">WT</text>
<text transform="translate(484.80 298.00)" font-size="8.3" text-anchor="start" fill="#383838" stroke="#383838" stroke-width="0.2" font-style="italic" textLength="20" lengthAdjust="spacingAndGlyphs">Cd53</text>
<text transform="translate(505.00 293.50)" font-size="4.6" text-anchor="start" fill="#555" stroke="#555" stroke-width="0.2" font-style="italic" textLength="7.5" lengthAdjust="spacingAndGlyphs">−/−</text>
<text transform="translate(122.30 352.90)" font-size="11.8" text-anchor="start" fill="#111" font-weight="bold">F</text>
<line x1="155.50" y1="358.50" x2="155.50" y2="456.40" stroke="#222" stroke-width="1.2" />
<line x1="153.00" y1="455.80" x2="202.30" y2="455.80" stroke="#222" stroke-width="1.2" />
<line x1="152.50" y1="455.80" x2="155.50" y2="455.80" stroke="#222" stroke-width="1" />
<text transform="translate(148.90 458.70) scale(0.92 1)" font-size="8.3" text-anchor="end" fill="#383838" stroke="#383838" stroke-width="0.2">0.00</text>
<line x1="152.50" y1="424.54" x2="155.50" y2="424.54" stroke="#222" stroke-width="1" />
<text transform="translate(148.90 427.44) scale(0.92 1)" font-size="8.3" text-anchor="end" fill="#383838" stroke="#383838" stroke-width="0.2">0.05</text>
<line x1="152.50" y1="393.27" x2="155.50" y2="393.27" stroke="#222" stroke-width="1" />
<text transform="translate(148.90 396.17) scale(0.92 1)" font-size="8.3" text-anchor="end" fill="#383838" stroke="#383838" stroke-width="0.2">0.10</text>
<line x1="152.50" y1="362.00" x2="155.50" y2="362.00" stroke="#222" stroke-width="1" />
<text transform="translate(148.90 364.90) scale(0.92 1)" font-size="8.3" text-anchor="end" fill="#383838" stroke="#383838" stroke-width="0.2">0.15</text>
<text transform="translate(128.40 407.70) rotate(-90)" font-size="9" text-anchor="middle" fill="#383838" stroke="#383838" stroke-width="0.2" textLength="71" lengthAdjust="spacingAndGlyphs">HSPC BM frequency</text>
<rect x="161.90" y="404.09" width="13.70" height="51.71" fill="#6d80b3" stroke="#2c4f7e" stroke-width="1.1"/>
<rect x="182.20" y="384.83" width="13.60" height="70.97" fill="#e3776a" stroke="#c9364a" stroke-width="1.1"/>
<line x1="168.75" y1="392.00" x2="168.75" y2="414.00" stroke="#2d5f8f" stroke-width="1.1" />
<line x1="165.35" y1="392.00" x2="172.15" y2="392.00" stroke="#2d5f8f" stroke-width="1.1" />
<line x1="165.35" y1="414.00" x2="172.15" y2="414.00" stroke="#2d5f8f" stroke-width="1.1" />
<line x1="189.00" y1="375.30" x2="189.00" y2="393.90" stroke="#b82840" stroke-width="1.1" />
<line x1="185.60" y1="375.30" x2="192.40" y2="375.30" stroke="#b82840" stroke-width="1.1" />
<line x1="185.60" y1="393.90" x2="192.40" y2="393.90" stroke="#b82840" stroke-width="1.1" />
<circle cx="168.50" cy="380.00" r="1.7" stroke="#2d5f8f" fill="#2d5f8f" stroke-width="0.4"/>
<circle cx="165.70" cy="397.60" r="1.7" stroke="#2d5f8f" fill="#2d5f8f" stroke-width="0.4"/>
<circle cx="171.60" cy="399.90" r="1.7" stroke="#2d5f8f" fill="#2d5f8f" stroke-width="0.4"/>
<circle cx="168.70" cy="433.00" r="1.7" stroke="#2d5f8f" fill="#2d5f8f" stroke-width="0.4"/>
<rect x="187.70" y="367.80" width="3.2" height="3.2" stroke="#c8283e" fill="#c8283e" stroke-width="0.3"/>
<rect x="187.70" y="373.60" width="3.2" height="3.2" stroke="#c8283e" fill="#c8283e" stroke-width="0.3"/>
<rect x="187.70" y="379.70" width="3.2" height="3.2" stroke="#c8283e" fill="#c8283e" stroke-width="0.3"/>
<rect x="187.70" y="411.20" width="3.2" height="3.2" stroke="#c8283e" fill="#c8283e" stroke-width="0.3"/>
<line x1="169.20" y1="455.80" x2="169.20" y2="458.60" stroke="#222" stroke-width="1" />
<line x1="188.80" y1="455.80" x2="188.80" y2="458.60" stroke="#222" stroke-width="1" />
<text transform="translate(168.20 468.80)" font-size="8.3" text-anchor="middle" fill="#383838" stroke="#383838" stroke-width="0.2" textLength="11" lengthAdjust="spacingAndGlyphs">WT</text>
<text transform="translate(179.20 468.80)" font-size="8.3" text-anchor="start" fill="#383838" stroke="#383838" stroke-width="0.2" font-style="italic" textLength="20" lengthAdjust="spacingAndGlyphs">Cd53</text>
<text transform="translate(199.50 464.20)" font-size="4.6" text-anchor="start" fill="#555" stroke="#555" stroke-width="0.2" font-style="italic" textLength="7.5" lengthAdjust="spacingAndGlyphs">−/−</text>
<text transform="translate(221.80 352.90)" font-size="11.8" text-anchor="start" fill="#111" font-weight="bold">G</text>
<line x1="252.40" y1="358.50" x2="252.40" y2="456.30" stroke="#222" stroke-width="1.2" />
<line x1="249.90" y1="455.70" x2="299.60" y2="455.70" stroke="#222" stroke-width="1.2" />
<line x1="249.40" y1="455.70" x2="252.40" y2="455.70" stroke="#222" stroke-width="1" />
<text transform="translate(246.60 458.60) scale(0.92 1)" font-size="8.3" text-anchor="end" fill="#383838" stroke="#383838" stroke-width="0.2">0</text>
<line x1="249.40" y1="432.20" x2="252.40" y2="432.20" stroke="#222" stroke-width="1" />
<text transform="translate(246.60 435.10) scale(0.92 1)" font-size="8.3" text-anchor="end" fill="#383838" stroke="#383838" stroke-width="0.2">20</text>
<line x1="249.40" y1="408.70" x2="252.40" y2="408.70" stroke="#222" stroke-width="1" />
<text transform="translate(246.60 411.60) scale(0.92 1)" font-size="8.3" text-anchor="end" fill="#383838" stroke="#383838" stroke-width="0.2">40</text>
<line x1="249.40" y1="385.20" x2="252.40" y2="385.20" stroke="#222" stroke-width="1" />
<text transform="translate(246.60 388.10) scale(0.92 1)" font-size="8.3" text-anchor="end" fill="#383838" stroke="#383838" stroke-width="0.2">60</text>
<line x1="249.40" y1="361.70" x2="252.40" y2="361.70" stroke="#222" stroke-width="1" />
<text transform="translate(246.60 364.60) scale(0.92 1)" font-size="8.3" text-anchor="end" fill="#383838" stroke="#383838" stroke-width="0.2">80</text>
<text transform="translate(229.20 407.00) rotate(-90)" font-size="9" text-anchor="middle" fill="#383838" stroke="#383838" stroke-width="0.2" textLength="53.5" lengthAdjust="spacingAndGlyphs">HSPCs in G<tspan font-size="6.4" dy="2">0</tspan><tspan dy="-2"> (%)</tspan></text>
<rect x="259.20" y="378.97" width="13.40" height="76.73" fill="#6d80b3" stroke="#2c4f7e" stroke-width="1.1"/>
<rect x="279.30" y="388.14" width="14.40" height="67.56" fill="#e3776a" stroke="#c9364a" stroke-width="1.1"/>
<line x1="265.90" y1="375.10" x2="265.90" y2="383.30" stroke="#2d5f8f" stroke-width="1.1" />
<line x1="262.50" y1="375.10" x2="269.30" y2="375.10" stroke="#2d5f8f" stroke-width="1.1" />
<line x1="262.50" y1="383.30" x2="269.30" y2="383.30" stroke="#2d5f8f" stroke-width="1.1" />
<line x1="286.50" y1="385.50" x2="286.50" y2="391.50" stroke="#b82840" stroke-width="1.1" />
<line x1="283.10" y1="385.50" x2="289.90" y2="385.50" stroke="#b82840" stroke-width="1.1" />
<line x1="283.10" y1="391.50" x2="289.90" y2="391.50" stroke="#b82840" stroke-width="1.1" />
<circle cx="260.40" cy="373.20" r="1.7" stroke="#2d5f8f" fill="#2d5f8f" stroke-width="0.4"/>
<circle cx="271.70" cy="373.20" r="1.7" stroke="#2d5f8f" fill="#2d5f8f" stroke-width="0.4"/>
<circle cx="265.80" cy="376.40" r="1.7" stroke="#2d5f8f" fill="#2d5f8f" stroke-width="0.4"/>
<circle cx="265.80" cy="392.70" r="1.7" stroke="#2d5f8f" fill="#2d5f8f" stroke-width="0.4"/>
<rect x="283.20" y="385.30" width="3.2" height="3.2" stroke="#c8283e" fill="#c8283e" stroke-width="0.3"/>
<rect x="287.40" y="382.60" width="3.2" height="3.2" stroke="#c8283e" fill="#c8283e" stroke-width="0.3"/>
<rect x="285.30" y="390.60" width="3.2" height="3.2" stroke="#c8283e" fill="#c8283e" stroke-width="0.3"/>
<rect x="282.00" y="387.40" width="3.2" height="3.2" stroke="#c8283e" fill="#c8283e" stroke-width="0.3"/>
<line x1="266.50" y1="455.70" x2="266.50" y2="458.50" stroke="#222" stroke-width="1" />
<line x1="286.60" y1="455.70" x2="286.60" y2="458.50" stroke="#222" stroke-width="1" />
<text transform="translate(266.20 468.80)" font-size="8.3" text-anchor="middle" fill="#383838" stroke="#383838" stroke-width="0.2" textLength="11" lengthAdjust="spacingAndGlyphs">WT</text>
<text transform="translate(274.20 468.80)" font-size="8.3" text-anchor="start" fill="#383838" stroke="#383838" stroke-width="0.2" font-style="italic" textLength="20" lengthAdjust="spacingAndGlyphs">Cd53</text>
<text transform="translate(294.50 464.20)" font-size="4.6" text-anchor="start" fill="#555" stroke="#555" stroke-width="0.2" font-style="italic" textLength="7.5" lengthAdjust="spacingAndGlyphs">−/−</text>
<text transform="translate(318.50 352.90)" font-size="11.8" text-anchor="start" fill="#111" font-weight="bold">H</text>
<line x1="349.40" y1="358.50" x2="349.40" y2="456.30" stroke="#222" stroke-width="1.2" />
<line x1="346.90" y1="455.70" x2="395.60" y2="455.70" stroke="#222" stroke-width="1.2" />
<line x1="346.40" y1="455.70" x2="349.40" y2="455.70" stroke="#222" stroke-width="1" />
<text transform="translate(343.20 458.60) scale(0.92 1)" font-size="8.3" text-anchor="end" fill="#383838" stroke="#383838" stroke-width="0.2">0</text>
<line x1="346.40" y1="424.63" x2="349.40" y2="424.63" stroke="#222" stroke-width="1" />
<text transform="translate(343.20 427.53) scale(0.92 1)" font-size="8.3" text-anchor="end" fill="#383838" stroke="#383838" stroke-width="0.2">5</text>
<line x1="346.40" y1="393.57" x2="349.40" y2="393.57" stroke="#222" stroke-width="1" />
<text transform="translate(343.20 396.47) scale(0.92 1)" font-size="8.3" text-anchor="end" fill="#383838" stroke="#383838" stroke-width="0.2">10</text>
<line x1="346.40" y1="362.50" x2="349.40" y2="362.50" stroke="#222" stroke-width="1" />
<text transform="translate(343.20 365.40) scale(0.92 1)" font-size="8.3" text-anchor="end" fill="#383838" stroke="#383838" stroke-width="0.2">15</text>
<text transform="translate(325.70 407.30) rotate(-90)" font-size="9" text-anchor="middle" fill="#383838" stroke="#383838" stroke-width="0.2" textLength="71.5" lengthAdjust="spacingAndGlyphs">HSPCs in S/G<tspan font-size="6" dy="1.8">2</tspan><tspan dy="-1.8">/M (%)</tspan></text>
<rect x="355.80" y="425.57" width="13.90" height="30.13" fill="#6d80b3" stroke="#2c4f7e" stroke-width="1.1"/>
<rect x="376.30" y="390.46" width="13.30" height="65.24" fill="#e3776a" stroke="#c9364a" stroke-width="1.1"/>
<line x1="362.75" y1="420.40" x2="362.75" y2="432.00" stroke="#2d5f8f" stroke-width="1.1" />
<line x1="359.35" y1="420.40" x2="366.15" y2="420.40" stroke="#2d5f8f" stroke-width="1.1" />
<line x1="359.35" y1="432.00" x2="366.15" y2="432.00" stroke="#2d5f8f" stroke-width="1.1" />
<line x1="382.95" y1="381.00" x2="382.95" y2="402.60" stroke="#b82840" stroke-width="1.1" />
<line x1="379.55" y1="381.00" x2="386.35" y2="381.00" stroke="#b82840" stroke-width="1.1" />
<line x1="379.55" y1="402.60" x2="386.35" y2="402.60" stroke="#b82840" stroke-width="1.1" />
<circle cx="362.80" cy="408.90" r="1.7" stroke="#2d5f8f" fill="#2d5f8f" stroke-width="0.4"/>
<circle cx="359.60" cy="429.80" r="1.7" stroke="#2d5f8f" fill="#2d5f8f" stroke-width="0.4"/>
<circle cx="364.80" cy="432.00" r="1.7" stroke="#2d5f8f" fill="#2d5f8f" stroke-width="0.4"/>
<circle cx="359.60" cy="434.50" r="1.7" stroke="#2d5f8f" fill="#2d5f8f" stroke-width="0.4"/>
<rect x="381.60" y="369.50" width="3.2" height="3.2" stroke="#c8283e" fill="#c8283e" stroke-width="0.3"/>
<rect x="381.60" y="380.40" width="3.2" height="3.2" stroke="#c8283e" fill="#c8283e" stroke-width="0.3"/>
<rect x="381.60" y="389.80" width="3.2" height="3.2" stroke="#c8283e" fill="#c8283e" stroke-width="0.3"/>
<rect x="381.60" y="417.10" width="3.2" height="3.2" stroke="#c8283e" fill="#c8283e" stroke-width="0.3"/>
<line x1="362.80" y1="455.70" x2="362.80" y2="458.50" stroke="#222" stroke-width="1" />
<line x1="383.20" y1="455.70" x2="383.20" y2="458.50" stroke="#222" stroke-width="1" />
<text transform="translate(362.00 468.80)" font-size="8.3" text-anchor="middle" fill="#383838" stroke="#383838" stroke-width="0.2" textLength="11" lengthAdjust="spacingAndGlyphs">WT</text>
<text transform="translate(371.40 468.80)" font-size="8.3" text-anchor="start" fill="#383838" stroke="#383838" stroke-width="0.2" font-style="italic" textLength="20" lengthAdjust="spacingAndGlyphs">Cd53</text>
<text transform="translate(391.70 464.20)" font-size="4.6" text-anchor="start" fill="#555" stroke="#555" stroke-width="0.2" font-style="italic" textLength="7.5" lengthAdjust="spacingAndGlyphs">−/−</text>
<path d="M 362.8 395.4 L 362.8 361.6 L 383.5 361.6 L 383.5 366.8" stroke="#444" stroke-width="0.9" fill="none" />
<text transform="translate(372.60 360.80)" font-size="8" text-anchor="middle" fill="#333" stroke="#333" stroke-width="0.2">*</text>
<rect x="0.55" y="0.55" width="518.9" height="476.9" fill="none" stroke="#333" stroke-width="1.1"/>
</svg>
</body></html>
